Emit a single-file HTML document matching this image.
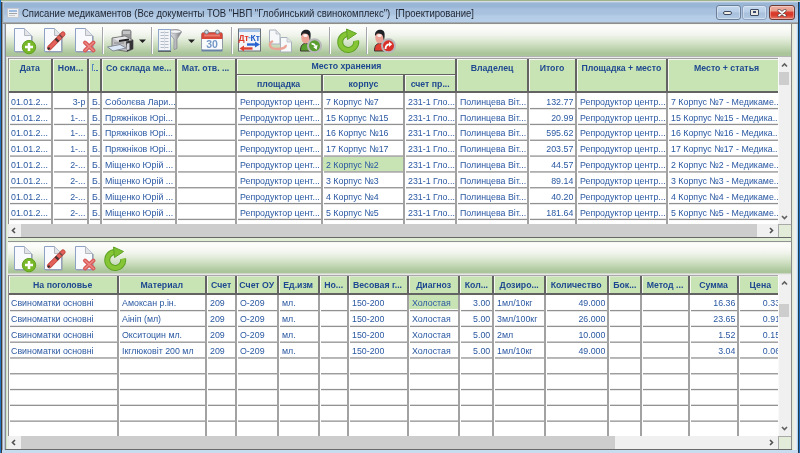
<!DOCTYPE html>
<html><head><meta charset="utf-8"><style>
html,body{margin:0;padding:0;}
body{width:800px;height:453px;position:relative;overflow:hidden;font-family:"Liberation Sans",sans-serif;}
body div, body svg{position:absolute;}
.d{transform:scaleX(0.9300);font-size:9.5px;line-height:11px;height:11px;color:#2a58a2;white-space:nowrap;overflow:hidden;}
.h{transform:scaleX(0.9200);font-size:9.5px;line-height:11px;height:11px;color:#1e4890;font-weight:bold;white-space:nowrap;overflow:hidden;}
.title{font-size:11px;line-height:13px;color:#1e2430;white-space:nowrap;transform:scaleX(0.864);transform-origin:0 0;}
.tbtn{border:1px solid #6c7e98;border-radius:3px;background:linear-gradient(to bottom,#c4d8ee 0px,#b8cee8 6px,#a8c0dc 7px,#b0c8e2 12px,#c0d8f0 13px);box-shadow:inset 0 0 0 1px rgba(255,255,255,0.35);}
</style></head><body>
<div id="wrap" style="left:0;top:0;width:800px;height:453px;filter:blur(0.35px)">
<div style="left:0px;top:0px;width:800px;height:453px;background:#e6eedc;"></div>
<div style="left:-4px;top:-4px;width:808px;height:5px;background:#9fb48a;"></div>
<div style="left:0px;top:1px;width:800px;height:1px;background:#d8dde4;"></div>
<div style="left:-4px;top:0px;width:5px;height:460px;background:#1f76c6;"></div>
<div style="left:0px;top:0px;width:1px;height:453px;background:#1f76c6;"></div>
<div style="left:1px;top:2px;width:1px;height:453px;background:#3e3a3a;"></div>
<div style="left:2px;top:2px;width:1px;height:453px;background:#a0a4a8;"></div>
<div style="left:3px;top:2px;width:1px;height:453px;background:#d4e4f4;"></div>
<div style="left:4px;top:2px;width:1px;height:453px;background:#b4c4dc;"></div>
<div style="left:5px;top:2px;width:1px;height:453px;background:#8c8c8c;"></div>
<div style="left:6px;top:2px;width:1px;height:453px;background:#cfe5c4;"></div>
<div style="left:7px;top:2px;width:1px;height:453px;background:#eaeee6;"></div>
<div style="left:791px;top:2px;width:1px;height:451px;background:#8a8a8a;"></div>
<div style="left:792px;top:2px;width:1px;height:451px;background:#e4ecdc;"></div>
<div style="left:793px;top:2px;width:1px;height:451px;background:#e8eee2;"></div>
<div style="left:794px;top:2px;width:1px;height:451px;background:#eef0ec;"></div>
<div style="left:795px;top:2px;width:1px;height:451px;background:#eef0f0;"></div>
<div style="left:796px;top:2px;width:1px;height:451px;background:#e4e8f0;"></div>
<div style="left:797px;top:2px;width:1px;height:451px;background:#a8d8f8;"></div>
<div style="left:798px;top:2px;width:1px;height:451px;background:#283848;"></div>
<div style="left:799px;top:2px;width:1px;height:451px;background:#1e6ec0;"></div>
<div style="left:799px;top:2px;width:5px;height:458px;background:#1e6ec0;"></div>
<div style="left:5px;top:449px;width:787px;height:1px;background:#6a6a6a;"></div>
<div style="left:2px;top:450px;width:796px;height:8px;background:#c8dcf0;"></div>
<div style="left:2px;top:2px;width:796px;height:20px;background:linear-gradient(to bottom,#c2d4e8 0px,#9ab6d6 1px,#9ab6d6 5px,#a6c0de 7px,#a8c2de 12px,#b4cce6 14px,#b6cee8 20px);"></div>
<div style="left:2px;top:2px;width:2px;height:20px;background:linear-gradient(to right,#707880,#d0e0f0);"></div>
<div style="left:2px;top:22px;width:796px;height:1px;background:#a0a8b0;"></div>
<div style="left:2px;top:23px;width:796px;height:1px;background:#8e8e8e;"></div>
<svg style="left:7px;top:8px" width="12" height="10" viewBox="0 0 12 10"><rect x="0.5" y="0.5" width="11" height="9" fill="#eef0f2" stroke="#c4c8d0"/><rect x="2" y="2" width="8" height="2" fill="#9cbbe0"/><rect x="2" y="5" width="8" height="1" fill="#a0a4a8"/><rect x="2" y="7" width="6" height="1" fill="#c8cacc"/></svg>
<div class="title" style="left:22px;top:6.5px">Списание медикаментов (Все документы ТОВ "НВП "Глобинський свинокомплекс")&nbsp;&nbsp;[Проектирование]</div>
<div class="tbtn" style="left:716px;top:5px;width:23px;height:13px;"><div style="position:absolute;left:6px;top:5px;width:7px;height:2px;background:#f2eee4;border:1px solid #3a4a62;border-radius:2px"></div></div>
<div class="tbtn" style="left:742px;top:5px;width:23px;height:13px;border-color:#8ea2c0;"><div style="position:absolute;left:7px;top:2.5px;width:6.5px;height:5px;background:#ebe8e2;border:1px solid #3a4a62;border-radius:1px"></div><div style="position:absolute;left:10px;top:5px;width:3px;height:1.5px;background:#3a4a70"></div></div>
<div class="tbtn" style="left:769px;top:5px;width:24px;height:13px;background:linear-gradient(to bottom,#eeb0a2 0px,#e89c8c 5px,#dc4030 6px,#d83828 9px,#e26a58 12px,#e88070 13px);border-color:#6a3a34"><svg style="left:7px;top:2.5px" width="10" height="8" viewBox="0 0 10 8"><path d="M2 1.5 L8 6.5 M8 1.5 L2 6.5" stroke="#5a4444" stroke-width="3" stroke-linecap="round"/><path d="M2 1.5 L8 6.5 M8 1.5 L2 6.5" stroke="#ffffff" stroke-width="1.7" stroke-linecap="round"/></svg></div>
<div style="left:6px;top:24px;width:785px;height:32px;background:linear-gradient(to bottom,#eef6e6 0px,#fdfdfb 1px,#fbfbf8 5px,#f0f4ec 11px,#dce8d2 17px,#c4d8b6 23px,#acc69c 29px,#a8c498 32px);"></div>
<div style="left:5px;top:23px;width:1px;height:34px;background:#8c8c8c;"></div>
<div style="left:6px;top:56px;width:785px;height:1px;background:#b4b4b4;"></div>
<div style="left:6px;top:57px;width:785px;height:1px;background:#ececec;"></div>
<svg style="left:0;top:0" width="800" height="453" viewBox="0 0 800 453"><defs><linearGradient id="funnel" x1="0" x2="1" y1="0" y2="0"><stop offset="0" stop-color="#e8e8ea"/><stop offset="0.45" stop-color="#c4c6ca"/><stop offset="1" stop-color="#6e7074"/></linearGradient></defs><path d="M14.5 28.5 H24.5 L31.5 35.5 V51.5 H14.5 Z" fill="#f8fafd" stroke="#8ea2c6"/><path d="M24.5 28.5 V35.5 H31.5" fill="#e2e4e8" stroke="#b4b8c0"/><path d="M15.5 52.2 H32.2 V36" fill="none" stroke="#a0a4ac" stroke-width="1"/><circle cx="29" cy="47.1" r="6.7" fill="#78b828" stroke="#62a020"/><path d="M29 43.1 V51.1 M25 47.1 H33" stroke="#fff" stroke-width="2.5"/><path d="M44.5 28.5 H54.5 L61.5 35.5 V51.5 H44.5 Z" fill="#f8fafd" stroke="#8ea2c6"/><path d="M54.5 28.5 V35.5 H61.5" fill="#e2e4e8" stroke="#b4b8c0"/><path d="M45.5 52.2 H62.2 V36" fill="none" stroke="#a0a4ac" stroke-width="1"/><path d="M49.5 47.8 L63 34" stroke="#c44a40" stroke-width="5" stroke-linecap="round"/><path d="M49.5 47.8 L63 34" stroke="#e4605a" stroke-width="3.2" stroke-linecap="round"/><path d="M56.2 41 L57.8 39.3" stroke="#4a3434" stroke-width="4.4"/><path d="M60.4 36.7 L61.4 35.6" stroke="#6a4a4a" stroke-width="4"/><path d="M48 49.4 L49.6 47.6" stroke="#303030" stroke-width="1.8"/><path d="M75.5 28.5 H85.5 L92.5 35.5 V51.5 H75.5 Z" fill="#f8fafd" stroke="#8ea2c6"/><path d="M85.5 28.5 V35.5 H92.5" fill="#e2e4e8" stroke="#b4b8c0"/><path d="M76.5 52.2 H93.2 V36" fill="none" stroke="#a0a4ac" stroke-width="1"/><path d="M85 42.5 L93.5 50.5 M93.5 42.5 L85 50.5" stroke="#d85a58" stroke-width="4" stroke-linecap="round"/><path d="M85 42.5 L93.5 50.5 M93.5 42.5 L85 50.5" stroke="#ec8a86" stroke-width="1.4" stroke-linecap="round"/><rect x="122" y="30" width="9" height="10" rx="1.5" fill="#9a9a9c" stroke="#707072" stroke-width="0.8"/><rect x="123" y="31" width="7" height="3" fill="#c4c4c6"/><path d="M112 38 L125 36 L133 40 L133 49 L127 51.5 L112 49 Z" fill="#c2c2c4" stroke="#6a6a6c" stroke-width="0.9"/><path d="M113 38.5 L125 36.5 L130 39 L118 41 Z" fill="#e8e8ea"/><path d="M119 41 L129 39.5" stroke="#202022" stroke-width="2"/><path d="M126 41.5 L133 40 L133 49 L127 51.5 Z" fill="#343436"/><path d="M127 43.5 L129.5 43 L129.5 49.5 L127 50 Z" fill="#d4d8de"/><path d="M114 43 H124" stroke="#8a8a8c" stroke-width="1"/><path d="M107.5 47 L120 44.5 L126 48 L113 51 Z" fill="#dce8f6" stroke="#7a8290" stroke-width="0.9"/><path d="M139 39.5 H146 L142.5 43.0 Z" fill="#202020"/><path d="M169 30.5 C173 29 180 29 181.5 32 L177 39 V48.5 L174 49.5 V39 L169 33 Z" fill="url(#funnel)" stroke="#8a8c90" stroke-width="0.8"/><ellipse cx="175.2" cy="31.6" rx="5.8" ry="1.7" fill="#f4f4f6" stroke="#9a9ca0" stroke-width="0.6"/><rect x="158.5" y="29.5" width="12" height="21" fill="#f2f4f8" stroke="#8ea8cc"/><path d="M160.5 32.5 H168.5 M160.5 35.5 H168.5 M160.5 38.5 H168.5 M160.5 41.5 H168.5 M160.5 44.5 H168.5 M160.5 47.5 H168.5" stroke="#b4bcc8" stroke-width="1.2"/><path d="M164.5 31 V49" stroke="#d8dce4" stroke-width="1"/><path d="M158 51.3 H171" stroke="#5a5a5c" stroke-width="1.2"/><path d="M188 39.5 H195 L191.5 43.0 Z" fill="#202020"/><rect x="201.5" y="32.5" width="21" height="18" rx="2" fill="#f8fafc" stroke="#9098a4"/><path d="M201.5 39 V34.5 Q201.5 32.5 203.5 32.5 H220.5 Q222.5 32.5 222.5 34.5 V39 Z" fill="#d8483a"/><rect x="204" y="34.5" width="16" height="2" fill="#e87c70"/><circle cx="206.5" cy="32" r="1.9" fill="#d0d8e4" stroke="#7c8898"/><circle cx="217.5" cy="32" r="1.9" fill="#d0d8e4" stroke="#7c8898"/><text x="212" y="48" text-anchor="middle" font-family="Liberation Sans" font-weight="bold" font-size="10.5" fill="#7498c8">30</text><rect x="201.5" y="49.5" width="21" height="2" fill="#6a84a8"/><rect x="238.5" y="29.0" width="22" height="22" fill="#f2f4f8" stroke="#6a7078"/><rect x="239" y="29.5" width="21" height="2.5" fill="#a8c4e8"/><text x="238.5" y="41.0" font-family="Liberation Sans" font-weight="bold" font-size="9.5" fill="#e03828" transform="translate(238.5 0) scale(0.9 1) translate(-238.5 0)">Дт</text><rect x="248.5" y="37.0" width="2" height="1.3" fill="#6aa0d8"/><text x="250.5" y="41.0" font-family="Liberation Sans" font-weight="bold" font-size="9.5" fill="#1e5cc8" transform="translate(250.5 0) scale(0.9 1) translate(-250.5 0)">Кт</text><path d="M247 44.5 H256" stroke="#2a64d0" stroke-width="2.4"/><path d="M255 41.5 L260 44.5 L255 47.5 Z" fill="#2a64d0"/><path d="M243 48.5 H252.5" stroke="#e04030" stroke-width="2.4"/><path d="M244 45.5 L239.5 48.5 L244 51.5 Z" fill="#e04030"/><path d="M269.5 30.0 H276 L280 34.0 V44.0 H269.5 Z" fill="#f6f8fa" stroke="#a8b0bc"/><path d="M276 30.0 V34.0 H280" fill="#e0e2e6" stroke="#b8bcc4" stroke-width="0.8"/><path d="M280.5 37.5 H287 L291.5 42.0 V52.0 H280.5 Z" fill="#f6f8fa" stroke="#a8b0bc"/><path d="M287 37.5 V42.0 H291.5" fill="#e0e2e6" stroke="#b8bcc4" stroke-width="0.8"/><path d="M273 41.0 C268 43.5 269 49.0 277 49.0 C283 49.0 286.5 47.5 285.5 45.0" fill="none" stroke="#eaa496" stroke-width="2.4"/><path d="M300.5 51.0 C300.5 45.5 302.5 43.5 305.5 43.5 C309 43.5 311 45.5 311 51.0 Z" fill="#5aa030" stroke="#3a3030" stroke-width="1"/><ellipse cx="305.6" cy="37.5" rx="4.3" ry="6" fill="#eca294"/><path d="M301 36.0 C300.5 31.0 304 29.5 307 29.8 C310 30.3 311 32.5 310.6 36.5 L310 41.5 L309 36.5 C308.5 34.0 306 33.0 303 33.7 Z" fill="#1e2226"/><ellipse cx="305.4" cy="35.5" rx="2.2" ry="1.6" fill="#ffffff" opacity="0.85"/><circle cx="314.5" cy="45.8" r="6.5" fill="#5a9e30" stroke="#b8b8bc" stroke-width="2"/><path d="M311.6 44.1 C313 43.5 314.5 44.3 315.3 45.9" fill="none" stroke="#fff" stroke-width="1.8"/><path d="M313.2 47.1 L317.6 44.7 L316.6 49.7 Z" fill="#fff"/><path d="M356.1 40.7 A8 8 0 1 1 348 34.0" fill="none" stroke="#5ea224" stroke-width="6"/><path d="M356.1 40.7 A8 8 0 1 1 348 34.0" fill="none" stroke="#86c636" stroke-width="4"/><path d="M346.5 29.0 L356.5 33.5 L347.5 39.5 Z" fill="#7ec032" stroke="#5ea224" stroke-width="1"/><path d="M374.5 51.0 C374.5 45.5 376.5 43.5 379.5 43.5 C383 43.5 385 45.5 385 51.0 Z" fill="#e04030" stroke="#3a3030" stroke-width="1"/><ellipse cx="379.6" cy="37.5" rx="4.3" ry="6" fill="#eca294"/><path d="M375 36.0 C374.5 31.0 378 29.5 381 29.8 C384 30.3 385 32.5 384.6 36.5 L384 41.5 L383 36.5 C382.5 34.0 380 33.0 377 33.7 Z" fill="#1e2226"/><ellipse cx="379.4" cy="35.5" rx="2.2" ry="1.6" fill="#ffffff" opacity="0.85"/><circle cx="388.5" cy="45.8" r="6.5" fill="#d83028" stroke="#b8b8bc" stroke-width="2"/><path d="M385.5 49.0 C385.5 45.5 387 44.3 389.5 44.3" fill="none" stroke="#fff" stroke-width="1.8"/><path d="M389 41.7 L392.2 44.3 L389 46.9 Z" fill="#fff"/></svg>
<div style="left:102px;top:27px;width:1px;height:27px;background:#a4a6ac;"></div>
<div style="left:103px;top:27px;width:1px;height:27px;background:#ffffff;"></div>
<div style="left:151px;top:27px;width:1px;height:27px;background:#a4a6ac;"></div>
<div style="left:152px;top:27px;width:1px;height:27px;background:#ffffff;"></div>
<div style="left:231px;top:27px;width:1px;height:27px;background:#a4a6ac;"></div>
<div style="left:232px;top:27px;width:1px;height:27px;background:#ffffff;"></div>
<div style="left:329px;top:27px;width:1px;height:27px;background:#a4a6ac;"></div>
<div style="left:330px;top:27px;width:1px;height:27px;background:#ffffff;"></div>
<div style="left:366px;top:27px;width:1px;height:27px;background:#a4a6ac;"></div>
<div style="left:367px;top:27px;width:1px;height:27px;background:#ffffff;"></div>
<div style="left:8px;top:58px;width:770px;height:1px;background:#a0a0a0;"></div>
<div style="left:8px;top:58px;width:1px;height:166px;background:#8c8c8c;"></div>
<div style="left:9px;top:59px;width:769px;height:34px;background:#c8e4b4;"></div>
<div style="left:9px;top:91px;width:769px;height:2px;background:#636363;"></div>
<div style="left:9px;top:93px;width:769px;height:131px;background:#ffffff;"></div>
<div style="left:9px;top:59px;width:769px;height:1px;background:#f4f8f0;"></div>
<div style="left:9px;top:59px;width:1px;height:32px;background:#f4f8f0;"></div>
<div style="left:53px;top:59px;width:1px;height:32px;background:#f4f8f0;"></div>
<div style="left:89px;top:59px;width:1px;height:32px;background:#f4f8f0;"></div>
<div style="left:102px;top:59px;width:1px;height:32px;background:#f4f8f0;"></div>
<div style="left:177px;top:59px;width:1px;height:32px;background:#f4f8f0;"></div>
<div style="left:237px;top:59px;width:1px;height:32px;background:#f4f8f0;"></div>
<div style="left:457px;top:59px;width:1px;height:32px;background:#f4f8f0;"></div>
<div style="left:529px;top:59px;width:1px;height:32px;background:#f4f8f0;"></div>
<div style="left:577px;top:59px;width:1px;height:32px;background:#f4f8f0;"></div>
<div style="left:668px;top:59px;width:1px;height:32px;background:#f4f8f0;"></div>
<div style="left:323px;top:75px;width:1px;height:16px;background:#f4f8f0;"></div>
<div style="left:405px;top:75px;width:1px;height:16px;background:#f4f8f0;"></div>
<div style="left:237px;top:75px;width:218px;height:1px;background:#f4f8f0;"></div>
<div style="left:237px;top:74px;width:218px;height:1px;background:#636363;"></div>
<div style="left:51px;top:59px;width:2px;height:34px;background:#636363;"></div>
<div style="left:87px;top:59px;width:2px;height:34px;background:#636363;"></div>
<div style="left:100px;top:59px;width:2px;height:34px;background:#636363;"></div>
<div style="left:175px;top:59px;width:2px;height:34px;background:#636363;"></div>
<div style="left:235px;top:59px;width:2px;height:34px;background:#636363;"></div>
<div style="left:455px;top:59px;width:2px;height:34px;background:#636363;"></div>
<div style="left:527px;top:59px;width:2px;height:34px;background:#636363;"></div>
<div style="left:575px;top:59px;width:2px;height:34px;background:#636363;"></div>
<div style="left:666px;top:59px;width:2px;height:34px;background:#636363;"></div>
<div style="left:321px;top:75px;width:2px;height:18px;background:#636363;"></div>
<div style="left:403px;top:75px;width:2px;height:18px;background:#636363;"></div>
<div class="h" style="left:7.17px;top:62.00px;width:45.65px;text-align:center;transform-origin:50% 0;">Дата</div>
<div class="h" style="left:51.52px;top:62.00px;width:36.96px;text-align:center;transform-origin:50% 0;">Ном...</div>
<div class="h" style="left:98.83px;top:62.00px;width:79.35px;text-align:center;transform-origin:50% 0;">Со склада ме...</div>
<div class="h" style="left:174.48px;top:62.00px;width:63.04px;text-align:center;transform-origin:50% 0;">Мат. отв. ...</div>
<div class="h" style="left:453.96px;top:62.00px;width:76.09px;text-align:center;transform-origin:50% 0;">Владелец</div>
<div class="h" style="left:527.00px;top:62.00px;width:50.00px;text-align:center;transform-origin:50% 0;">Итого</div>
<div class="h" style="left:573.13px;top:62.00px;width:96.74px;text-align:center;transform-origin:50% 0;">Площадка + место</div>
<div class="h" style="left:662.91px;top:62.00px;width:127.17px;text-align:center;transform-origin:50% 0;">Место + статья</div>
<div class="h" style="left:227.52px;top:60.30px;width:236.96px;text-align:center;transform-origin:50% 0;">Место хранения</div>
<div style="left:92px;top:64px;width:1px;height:7px;background:#5a88c4;"></div>
<div style="left:92px;top:64px;width:2px;height:1px;background:#5a88c4;"></div>
<div style="left:94px;top:69.5px;width:1px;height:1px;background:#3a68b0;"></div>
<div style="left:95.6px;top:69.5px;width:1px;height:1px;background:#3a68b0;"></div>
<div style="left:97.2px;top:69.5px;width:1px;height:1px;background:#3a68b0;"></div>
<div class="h" style="left:233.35px;top:77.90px;width:91.30px;text-align:center;transform-origin:50% 0;">площадка</div>
<div class="h" style="left:319.52px;top:77.90px;width:86.96px;text-align:center;transform-origin:50% 0;">корпус</div>
<div class="h" style="left:402.83px;top:77.90px;width:54.35px;text-align:center;transform-origin:50% 0;">счет пр...</div>
<div style="left:323px;top:157px;width:80px;height:14px;background:#c8e4b4;"></div>
<div style="left:10px;top:107px;width:41px;height:1px;background:#f9f9f9;"></div>
<div style="left:10px;top:108px;width:41px;height:1px;background:#919191;"></div>
<div style="left:10px;top:109px;width:41px;height:1px;background:#e4e4e4;"></div>
<div style="left:54px;top:107px;width:33px;height:1px;background:#f9f9f9;"></div>
<div style="left:54px;top:108px;width:33px;height:1px;background:#919191;"></div>
<div style="left:54px;top:109px;width:33px;height:1px;background:#e4e4e4;"></div>
<div style="left:90px;top:107px;width:10px;height:1px;background:#f9f9f9;"></div>
<div style="left:90px;top:108px;width:10px;height:1px;background:#919191;"></div>
<div style="left:90px;top:109px;width:10px;height:1px;background:#e4e4e4;"></div>
<div style="left:103px;top:107px;width:72px;height:1px;background:#f9f9f9;"></div>
<div style="left:103px;top:108px;width:72px;height:1px;background:#919191;"></div>
<div style="left:103px;top:109px;width:72px;height:1px;background:#e4e4e4;"></div>
<div style="left:178px;top:107px;width:57px;height:1px;background:#f9f9f9;"></div>
<div style="left:178px;top:108px;width:57px;height:1px;background:#919191;"></div>
<div style="left:178px;top:109px;width:57px;height:1px;background:#e4e4e4;"></div>
<div style="left:238px;top:107px;width:83px;height:1px;background:#f9f9f9;"></div>
<div style="left:238px;top:108px;width:83px;height:1px;background:#919191;"></div>
<div style="left:238px;top:109px;width:83px;height:1px;background:#e4e4e4;"></div>
<div style="left:324px;top:107px;width:79px;height:1px;background:#f9f9f9;"></div>
<div style="left:324px;top:108px;width:79px;height:1px;background:#919191;"></div>
<div style="left:324px;top:109px;width:79px;height:1px;background:#e4e4e4;"></div>
<div style="left:406px;top:107px;width:49px;height:1px;background:#f9f9f9;"></div>
<div style="left:406px;top:108px;width:49px;height:1px;background:#919191;"></div>
<div style="left:406px;top:109px;width:49px;height:1px;background:#e4e4e4;"></div>
<div style="left:458px;top:107px;width:69px;height:1px;background:#f9f9f9;"></div>
<div style="left:458px;top:108px;width:69px;height:1px;background:#919191;"></div>
<div style="left:458px;top:109px;width:69px;height:1px;background:#e4e4e4;"></div>
<div style="left:530px;top:107px;width:45px;height:1px;background:#f9f9f9;"></div>
<div style="left:530px;top:108px;width:45px;height:1px;background:#919191;"></div>
<div style="left:530px;top:109px;width:45px;height:1px;background:#e4e4e4;"></div>
<div style="left:578px;top:107px;width:88px;height:1px;background:#f9f9f9;"></div>
<div style="left:578px;top:108px;width:88px;height:1px;background:#919191;"></div>
<div style="left:578px;top:109px;width:88px;height:1px;background:#e4e4e4;"></div>
<div style="left:669px;top:107px;width:109px;height:1px;background:#f9f9f9;"></div>
<div style="left:669px;top:108px;width:109px;height:1px;background:#919191;"></div>
<div style="left:669px;top:109px;width:109px;height:1px;background:#e4e4e4;"></div>
<div style="left:10px;top:123px;width:41px;height:1px;background:#e7e7e7;"></div>
<div style="left:10px;top:124px;width:41px;height:1px;background:#919191;"></div>
<div style="left:10px;top:125px;width:41px;height:1px;background:#f6f6f6;"></div>
<div style="left:54px;top:123px;width:33px;height:1px;background:#e7e7e7;"></div>
<div style="left:54px;top:124px;width:33px;height:1px;background:#919191;"></div>
<div style="left:54px;top:125px;width:33px;height:1px;background:#f6f6f6;"></div>
<div style="left:90px;top:123px;width:10px;height:1px;background:#e7e7e7;"></div>
<div style="left:90px;top:124px;width:10px;height:1px;background:#919191;"></div>
<div style="left:90px;top:125px;width:10px;height:1px;background:#f6f6f6;"></div>
<div style="left:103px;top:123px;width:72px;height:1px;background:#e7e7e7;"></div>
<div style="left:103px;top:124px;width:72px;height:1px;background:#919191;"></div>
<div style="left:103px;top:125px;width:72px;height:1px;background:#f6f6f6;"></div>
<div style="left:178px;top:123px;width:57px;height:1px;background:#e7e7e7;"></div>
<div style="left:178px;top:124px;width:57px;height:1px;background:#919191;"></div>
<div style="left:178px;top:125px;width:57px;height:1px;background:#f6f6f6;"></div>
<div style="left:238px;top:123px;width:83px;height:1px;background:#e7e7e7;"></div>
<div style="left:238px;top:124px;width:83px;height:1px;background:#919191;"></div>
<div style="left:238px;top:125px;width:83px;height:1px;background:#f6f6f6;"></div>
<div style="left:324px;top:123px;width:79px;height:1px;background:#e7e7e7;"></div>
<div style="left:324px;top:124px;width:79px;height:1px;background:#919191;"></div>
<div style="left:324px;top:125px;width:79px;height:1px;background:#f6f6f6;"></div>
<div style="left:406px;top:123px;width:49px;height:1px;background:#e7e7e7;"></div>
<div style="left:406px;top:124px;width:49px;height:1px;background:#919191;"></div>
<div style="left:406px;top:125px;width:49px;height:1px;background:#f6f6f6;"></div>
<div style="left:458px;top:123px;width:69px;height:1px;background:#e7e7e7;"></div>
<div style="left:458px;top:124px;width:69px;height:1px;background:#919191;"></div>
<div style="left:458px;top:125px;width:69px;height:1px;background:#f6f6f6;"></div>
<div style="left:530px;top:123px;width:45px;height:1px;background:#e7e7e7;"></div>
<div style="left:530px;top:124px;width:45px;height:1px;background:#919191;"></div>
<div style="left:530px;top:125px;width:45px;height:1px;background:#f6f6f6;"></div>
<div style="left:578px;top:123px;width:88px;height:1px;background:#e7e7e7;"></div>
<div style="left:578px;top:124px;width:88px;height:1px;background:#919191;"></div>
<div style="left:578px;top:125px;width:88px;height:1px;background:#f6f6f6;"></div>
<div style="left:669px;top:123px;width:109px;height:1px;background:#e7e7e7;"></div>
<div style="left:669px;top:124px;width:109px;height:1px;background:#919191;"></div>
<div style="left:669px;top:125px;width:109px;height:1px;background:#f6f6f6;"></div>
<div style="left:10px;top:139px;width:41px;height:1px;background:#d4d4d4;"></div>
<div style="left:10px;top:140px;width:41px;height:1px;background:#9b9b9b;"></div>
<div style="left:54px;top:139px;width:33px;height:1px;background:#d4d4d4;"></div>
<div style="left:54px;top:140px;width:33px;height:1px;background:#9b9b9b;"></div>
<div style="left:90px;top:139px;width:10px;height:1px;background:#d4d4d4;"></div>
<div style="left:90px;top:140px;width:10px;height:1px;background:#9b9b9b;"></div>
<div style="left:103px;top:139px;width:72px;height:1px;background:#d4d4d4;"></div>
<div style="left:103px;top:140px;width:72px;height:1px;background:#9b9b9b;"></div>
<div style="left:178px;top:139px;width:57px;height:1px;background:#d4d4d4;"></div>
<div style="left:178px;top:140px;width:57px;height:1px;background:#9b9b9b;"></div>
<div style="left:238px;top:139px;width:83px;height:1px;background:#d4d4d4;"></div>
<div style="left:238px;top:140px;width:83px;height:1px;background:#9b9b9b;"></div>
<div style="left:324px;top:139px;width:79px;height:1px;background:#d4d4d4;"></div>
<div style="left:324px;top:140px;width:79px;height:1px;background:#9b9b9b;"></div>
<div style="left:406px;top:139px;width:49px;height:1px;background:#d4d4d4;"></div>
<div style="left:406px;top:140px;width:49px;height:1px;background:#9b9b9b;"></div>
<div style="left:458px;top:139px;width:69px;height:1px;background:#d4d4d4;"></div>
<div style="left:458px;top:140px;width:69px;height:1px;background:#9b9b9b;"></div>
<div style="left:530px;top:139px;width:45px;height:1px;background:#d4d4d4;"></div>
<div style="left:530px;top:140px;width:45px;height:1px;background:#9b9b9b;"></div>
<div style="left:578px;top:139px;width:88px;height:1px;background:#d4d4d4;"></div>
<div style="left:578px;top:140px;width:88px;height:1px;background:#9b9b9b;"></div>
<div style="left:669px;top:139px;width:109px;height:1px;background:#d4d4d4;"></div>
<div style="left:669px;top:140px;width:109px;height:1px;background:#9b9b9b;"></div>
<div style="left:10px;top:155px;width:41px;height:1px;background:#c1c1c1;"></div>
<div style="left:10px;top:156px;width:41px;height:1px;background:#aeaeae;"></div>
<div style="left:54px;top:155px;width:33px;height:1px;background:#c1c1c1;"></div>
<div style="left:54px;top:156px;width:33px;height:1px;background:#aeaeae;"></div>
<div style="left:90px;top:155px;width:10px;height:1px;background:#c1c1c1;"></div>
<div style="left:90px;top:156px;width:10px;height:1px;background:#aeaeae;"></div>
<div style="left:103px;top:155px;width:72px;height:1px;background:#c1c1c1;"></div>
<div style="left:103px;top:156px;width:72px;height:1px;background:#aeaeae;"></div>
<div style="left:178px;top:155px;width:57px;height:1px;background:#c1c1c1;"></div>
<div style="left:178px;top:156px;width:57px;height:1px;background:#aeaeae;"></div>
<div style="left:238px;top:155px;width:83px;height:1px;background:#c1c1c1;"></div>
<div style="left:238px;top:156px;width:83px;height:1px;background:#aeaeae;"></div>
<div style="left:324px;top:155px;width:79px;height:1px;background:#c1c1c1;"></div>
<div style="left:324px;top:156px;width:79px;height:1px;background:#aeaeae;"></div>
<div style="left:406px;top:155px;width:49px;height:1px;background:#c1c1c1;"></div>
<div style="left:406px;top:156px;width:49px;height:1px;background:#aeaeae;"></div>
<div style="left:458px;top:155px;width:69px;height:1px;background:#c1c1c1;"></div>
<div style="left:458px;top:156px;width:69px;height:1px;background:#aeaeae;"></div>
<div style="left:530px;top:155px;width:45px;height:1px;background:#c1c1c1;"></div>
<div style="left:530px;top:156px;width:45px;height:1px;background:#aeaeae;"></div>
<div style="left:578px;top:155px;width:88px;height:1px;background:#c1c1c1;"></div>
<div style="left:578px;top:156px;width:88px;height:1px;background:#aeaeae;"></div>
<div style="left:669px;top:155px;width:109px;height:1px;background:#c1c1c1;"></div>
<div style="left:669px;top:156px;width:109px;height:1px;background:#aeaeae;"></div>
<div style="left:10px;top:171px;width:41px;height:1px;background:#afafaf;"></div>
<div style="left:10px;top:172px;width:41px;height:1px;background:#c0c0c0;"></div>
<div style="left:54px;top:171px;width:33px;height:1px;background:#afafaf;"></div>
<div style="left:54px;top:172px;width:33px;height:1px;background:#c0c0c0;"></div>
<div style="left:90px;top:171px;width:10px;height:1px;background:#afafaf;"></div>
<div style="left:90px;top:172px;width:10px;height:1px;background:#c0c0c0;"></div>
<div style="left:103px;top:171px;width:72px;height:1px;background:#afafaf;"></div>
<div style="left:103px;top:172px;width:72px;height:1px;background:#c0c0c0;"></div>
<div style="left:178px;top:171px;width:57px;height:1px;background:#afafaf;"></div>
<div style="left:178px;top:172px;width:57px;height:1px;background:#c0c0c0;"></div>
<div style="left:238px;top:171px;width:83px;height:1px;background:#afafaf;"></div>
<div style="left:238px;top:172px;width:83px;height:1px;background:#c0c0c0;"></div>
<div style="left:324px;top:171px;width:79px;height:1px;background:#afafaf;"></div>
<div style="left:324px;top:172px;width:79px;height:1px;background:#c0c0c0;"></div>
<div style="left:406px;top:171px;width:49px;height:1px;background:#afafaf;"></div>
<div style="left:406px;top:172px;width:49px;height:1px;background:#c0c0c0;"></div>
<div style="left:458px;top:171px;width:69px;height:1px;background:#afafaf;"></div>
<div style="left:458px;top:172px;width:69px;height:1px;background:#c0c0c0;"></div>
<div style="left:530px;top:171px;width:45px;height:1px;background:#afafaf;"></div>
<div style="left:530px;top:172px;width:45px;height:1px;background:#c0c0c0;"></div>
<div style="left:578px;top:171px;width:88px;height:1px;background:#afafaf;"></div>
<div style="left:578px;top:172px;width:88px;height:1px;background:#c0c0c0;"></div>
<div style="left:669px;top:171px;width:109px;height:1px;background:#afafaf;"></div>
<div style="left:669px;top:172px;width:109px;height:1px;background:#c0c0c0;"></div>
<div style="left:10px;top:187px;width:41px;height:1px;background:#9c9c9c;"></div>
<div style="left:10px;top:188px;width:41px;height:1px;background:#d3d3d3;"></div>
<div style="left:54px;top:187px;width:33px;height:1px;background:#9c9c9c;"></div>
<div style="left:54px;top:188px;width:33px;height:1px;background:#d3d3d3;"></div>
<div style="left:90px;top:187px;width:10px;height:1px;background:#9c9c9c;"></div>
<div style="left:90px;top:188px;width:10px;height:1px;background:#d3d3d3;"></div>
<div style="left:103px;top:187px;width:72px;height:1px;background:#9c9c9c;"></div>
<div style="left:103px;top:188px;width:72px;height:1px;background:#d3d3d3;"></div>
<div style="left:178px;top:187px;width:57px;height:1px;background:#9c9c9c;"></div>
<div style="left:178px;top:188px;width:57px;height:1px;background:#d3d3d3;"></div>
<div style="left:238px;top:187px;width:83px;height:1px;background:#9c9c9c;"></div>
<div style="left:238px;top:188px;width:83px;height:1px;background:#d3d3d3;"></div>
<div style="left:324px;top:187px;width:79px;height:1px;background:#9c9c9c;"></div>
<div style="left:324px;top:188px;width:79px;height:1px;background:#d3d3d3;"></div>
<div style="left:406px;top:187px;width:49px;height:1px;background:#9c9c9c;"></div>
<div style="left:406px;top:188px;width:49px;height:1px;background:#d3d3d3;"></div>
<div style="left:458px;top:187px;width:69px;height:1px;background:#9c9c9c;"></div>
<div style="left:458px;top:188px;width:69px;height:1px;background:#d3d3d3;"></div>
<div style="left:530px;top:187px;width:45px;height:1px;background:#9c9c9c;"></div>
<div style="left:530px;top:188px;width:45px;height:1px;background:#d3d3d3;"></div>
<div style="left:578px;top:187px;width:88px;height:1px;background:#9c9c9c;"></div>
<div style="left:578px;top:188px;width:88px;height:1px;background:#d3d3d3;"></div>
<div style="left:669px;top:187px;width:109px;height:1px;background:#9c9c9c;"></div>
<div style="left:669px;top:188px;width:109px;height:1px;background:#d3d3d3;"></div>
<div style="left:10px;top:202px;width:41px;height:1px;background:#f7f7f7;"></div>
<div style="left:10px;top:203px;width:41px;height:1px;background:#919191;"></div>
<div style="left:10px;top:204px;width:41px;height:1px;background:#e6e6e6;"></div>
<div style="left:54px;top:202px;width:33px;height:1px;background:#f7f7f7;"></div>
<div style="left:54px;top:203px;width:33px;height:1px;background:#919191;"></div>
<div style="left:54px;top:204px;width:33px;height:1px;background:#e6e6e6;"></div>
<div style="left:90px;top:202px;width:10px;height:1px;background:#f7f7f7;"></div>
<div style="left:90px;top:203px;width:10px;height:1px;background:#919191;"></div>
<div style="left:90px;top:204px;width:10px;height:1px;background:#e6e6e6;"></div>
<div style="left:103px;top:202px;width:72px;height:1px;background:#f7f7f7;"></div>
<div style="left:103px;top:203px;width:72px;height:1px;background:#919191;"></div>
<div style="left:103px;top:204px;width:72px;height:1px;background:#e6e6e6;"></div>
<div style="left:178px;top:202px;width:57px;height:1px;background:#f7f7f7;"></div>
<div style="left:178px;top:203px;width:57px;height:1px;background:#919191;"></div>
<div style="left:178px;top:204px;width:57px;height:1px;background:#e6e6e6;"></div>
<div style="left:238px;top:202px;width:83px;height:1px;background:#f7f7f7;"></div>
<div style="left:238px;top:203px;width:83px;height:1px;background:#919191;"></div>
<div style="left:238px;top:204px;width:83px;height:1px;background:#e6e6e6;"></div>
<div style="left:324px;top:202px;width:79px;height:1px;background:#f7f7f7;"></div>
<div style="left:324px;top:203px;width:79px;height:1px;background:#919191;"></div>
<div style="left:324px;top:204px;width:79px;height:1px;background:#e6e6e6;"></div>
<div style="left:406px;top:202px;width:49px;height:1px;background:#f7f7f7;"></div>
<div style="left:406px;top:203px;width:49px;height:1px;background:#919191;"></div>
<div style="left:406px;top:204px;width:49px;height:1px;background:#e6e6e6;"></div>
<div style="left:458px;top:202px;width:69px;height:1px;background:#f7f7f7;"></div>
<div style="left:458px;top:203px;width:69px;height:1px;background:#919191;"></div>
<div style="left:458px;top:204px;width:69px;height:1px;background:#e6e6e6;"></div>
<div style="left:530px;top:202px;width:45px;height:1px;background:#f7f7f7;"></div>
<div style="left:530px;top:203px;width:45px;height:1px;background:#919191;"></div>
<div style="left:530px;top:204px;width:45px;height:1px;background:#e6e6e6;"></div>
<div style="left:578px;top:202px;width:88px;height:1px;background:#f7f7f7;"></div>
<div style="left:578px;top:203px;width:88px;height:1px;background:#919191;"></div>
<div style="left:578px;top:204px;width:88px;height:1px;background:#e6e6e6;"></div>
<div style="left:669px;top:202px;width:109px;height:1px;background:#f7f7f7;"></div>
<div style="left:669px;top:203px;width:109px;height:1px;background:#919191;"></div>
<div style="left:669px;top:204px;width:109px;height:1px;background:#e6e6e6;"></div>
<div style="left:10px;top:218px;width:41px;height:1px;background:#e5e5e5;"></div>
<div style="left:10px;top:219px;width:41px;height:1px;background:#919191;"></div>
<div style="left:10px;top:220px;width:41px;height:1px;background:#f8f8f8;"></div>
<div style="left:54px;top:218px;width:33px;height:1px;background:#e5e5e5;"></div>
<div style="left:54px;top:219px;width:33px;height:1px;background:#919191;"></div>
<div style="left:54px;top:220px;width:33px;height:1px;background:#f8f8f8;"></div>
<div style="left:90px;top:218px;width:10px;height:1px;background:#e5e5e5;"></div>
<div style="left:90px;top:219px;width:10px;height:1px;background:#919191;"></div>
<div style="left:90px;top:220px;width:10px;height:1px;background:#f8f8f8;"></div>
<div style="left:103px;top:218px;width:72px;height:1px;background:#e5e5e5;"></div>
<div style="left:103px;top:219px;width:72px;height:1px;background:#919191;"></div>
<div style="left:103px;top:220px;width:72px;height:1px;background:#f8f8f8;"></div>
<div style="left:178px;top:218px;width:57px;height:1px;background:#e5e5e5;"></div>
<div style="left:178px;top:219px;width:57px;height:1px;background:#919191;"></div>
<div style="left:178px;top:220px;width:57px;height:1px;background:#f8f8f8;"></div>
<div style="left:238px;top:218px;width:83px;height:1px;background:#e5e5e5;"></div>
<div style="left:238px;top:219px;width:83px;height:1px;background:#919191;"></div>
<div style="left:238px;top:220px;width:83px;height:1px;background:#f8f8f8;"></div>
<div style="left:324px;top:218px;width:79px;height:1px;background:#e5e5e5;"></div>
<div style="left:324px;top:219px;width:79px;height:1px;background:#919191;"></div>
<div style="left:324px;top:220px;width:79px;height:1px;background:#f8f8f8;"></div>
<div style="left:406px;top:218px;width:49px;height:1px;background:#e5e5e5;"></div>
<div style="left:406px;top:219px;width:49px;height:1px;background:#919191;"></div>
<div style="left:406px;top:220px;width:49px;height:1px;background:#f8f8f8;"></div>
<div style="left:458px;top:218px;width:69px;height:1px;background:#e5e5e5;"></div>
<div style="left:458px;top:219px;width:69px;height:1px;background:#919191;"></div>
<div style="left:458px;top:220px;width:69px;height:1px;background:#f8f8f8;"></div>
<div style="left:530px;top:218px;width:45px;height:1px;background:#e5e5e5;"></div>
<div style="left:530px;top:219px;width:45px;height:1px;background:#919191;"></div>
<div style="left:530px;top:220px;width:45px;height:1px;background:#f8f8f8;"></div>
<div style="left:578px;top:218px;width:88px;height:1px;background:#e5e5e5;"></div>
<div style="left:578px;top:219px;width:88px;height:1px;background:#919191;"></div>
<div style="left:578px;top:220px;width:88px;height:1px;background:#f8f8f8;"></div>
<div style="left:669px;top:218px;width:109px;height:1px;background:#e5e5e5;"></div>
<div style="left:669px;top:219px;width:109px;height:1px;background:#919191;"></div>
<div style="left:669px;top:220px;width:109px;height:1px;background:#f8f8f8;"></div>
<div style="left:51px;top:93px;width:2px;height:131px;background:#a2a2a2;"></div>
<div style="left:87px;top:93px;width:2px;height:131px;background:#a2a2a2;"></div>
<div style="left:100px;top:93px;width:2px;height:131px;background:#a2a2a2;"></div>
<div style="left:175px;top:93px;width:2px;height:131px;background:#a2a2a2;"></div>
<div style="left:235px;top:93px;width:2px;height:131px;background:#a2a2a2;"></div>
<div style="left:455px;top:93px;width:2px;height:131px;background:#a2a2a2;"></div>
<div style="left:527px;top:93px;width:2px;height:131px;background:#a2a2a2;"></div>
<div style="left:575px;top:93px;width:2px;height:131px;background:#a2a2a2;"></div>
<div style="left:666px;top:93px;width:2px;height:131px;background:#a2a2a2;"></div>
<div style="left:321px;top:93px;width:2px;height:131px;background:#a2a2a2;"></div>
<div style="left:403px;top:93px;width:2px;height:131px;background:#a2a2a2;"></div>
<div class="d" style="left:11.00px;top:95.70px;width:43.01px;text-align:left;transform-origin:0 0;">01.01.2...</div>
<div class="d" style="left:50.59px;top:95.70px;width:34.41px;text-align:right;transform-origin:100% 0;">3-р</div>
<div class="d" style="left:91.70px;top:95.70px;width:8.92px;text-align:left;transform-origin:0 0;">Б.</div>
<div class="d" style="left:104.70px;top:95.70px;width:75.59px;text-align:left;transform-origin:0 0;">Соболєва Лари...</div>
<div class="d" style="left:239.70px;top:95.70px;width:87.42px;text-align:left;transform-origin:0 0;">Репродуктор цент...</div>
<div class="d" style="left:325.70px;top:95.70px;width:83.12px;text-align:left;transform-origin:0 0;">7 Корпус №7</div>
<div class="d" style="left:407.70px;top:95.70px;width:50.86px;text-align:left;transform-origin:0 0;">231-1 Гло...</div>
<div class="d" style="left:459.70px;top:95.70px;width:72.37px;text-align:left;transform-origin:0 0;">Полинцева Віт...</div>
<div class="d" style="left:525.69px;top:95.70px;width:47.31px;text-align:right;transform-origin:100% 0;">132.77</div>
<div class="d" style="left:579.70px;top:95.70px;width:92.80px;text-align:left;transform-origin:0 0;">Репродуктор центр...</div>
<div class="d" style="left:670.70px;top:95.70px;width:128.28px;text-align:left;transform-origin:0 0;">7 Корпус №7 - Медикаме...</div>
<div class="d" style="left:11.00px;top:111.53px;width:43.01px;text-align:left;transform-origin:0 0;">01.01.2...</div>
<div class="d" style="left:50.59px;top:111.53px;width:34.41px;text-align:right;transform-origin:100% 0;">1-...</div>
<div class="d" style="left:91.70px;top:111.53px;width:8.92px;text-align:left;transform-origin:0 0;">Б.</div>
<div class="d" style="left:104.70px;top:111.53px;width:75.59px;text-align:left;transform-origin:0 0;">Пряжніков Юрі...</div>
<div class="d" style="left:239.70px;top:111.53px;width:87.42px;text-align:left;transform-origin:0 0;">Репродуктор цент...</div>
<div class="d" style="left:325.70px;top:111.53px;width:83.12px;text-align:left;transform-origin:0 0;">15 Корпус №15</div>
<div class="d" style="left:407.70px;top:111.53px;width:50.86px;text-align:left;transform-origin:0 0;">231-1 Гло...</div>
<div class="d" style="left:459.70px;top:111.53px;width:72.37px;text-align:left;transform-origin:0 0;">Полинцева Віт...</div>
<div class="d" style="left:525.69px;top:111.53px;width:47.31px;text-align:right;transform-origin:100% 0;">20.99</div>
<div class="d" style="left:579.70px;top:111.53px;width:92.80px;text-align:left;transform-origin:0 0;">Репродуктор центр...</div>
<div class="d" style="left:670.70px;top:111.53px;width:128.28px;text-align:left;transform-origin:0 0;">15 Корпус №15 - Медика...</div>
<div class="d" style="left:11.00px;top:127.36px;width:43.01px;text-align:left;transform-origin:0 0;">01.01.2...</div>
<div class="d" style="left:50.59px;top:127.36px;width:34.41px;text-align:right;transform-origin:100% 0;">1-...</div>
<div class="d" style="left:91.70px;top:127.36px;width:8.92px;text-align:left;transform-origin:0 0;">Б.</div>
<div class="d" style="left:104.70px;top:127.36px;width:75.59px;text-align:left;transform-origin:0 0;">Пряжніков Юрі...</div>
<div class="d" style="left:239.70px;top:127.36px;width:87.42px;text-align:left;transform-origin:0 0;">Репродуктор цент...</div>
<div class="d" style="left:325.70px;top:127.36px;width:83.12px;text-align:left;transform-origin:0 0;">16 Корпус №16</div>
<div class="d" style="left:407.70px;top:127.36px;width:50.86px;text-align:left;transform-origin:0 0;">231-1 Гло...</div>
<div class="d" style="left:459.70px;top:127.36px;width:72.37px;text-align:left;transform-origin:0 0;">Полинцева Віт...</div>
<div class="d" style="left:525.69px;top:127.36px;width:47.31px;text-align:right;transform-origin:100% 0;">595.62</div>
<div class="d" style="left:579.70px;top:127.36px;width:92.80px;text-align:left;transform-origin:0 0;">Репродуктор центр...</div>
<div class="d" style="left:670.70px;top:127.36px;width:128.28px;text-align:left;transform-origin:0 0;">16 Корпус №16 - Медика...</div>
<div class="d" style="left:11.00px;top:143.19px;width:43.01px;text-align:left;transform-origin:0 0;">01.01.2...</div>
<div class="d" style="left:50.59px;top:143.19px;width:34.41px;text-align:right;transform-origin:100% 0;">1-...</div>
<div class="d" style="left:91.70px;top:143.19px;width:8.92px;text-align:left;transform-origin:0 0;">Б.</div>
<div class="d" style="left:104.70px;top:143.19px;width:75.59px;text-align:left;transform-origin:0 0;">Пряжніков Юрі...</div>
<div class="d" style="left:239.70px;top:143.19px;width:87.42px;text-align:left;transform-origin:0 0;">Репродуктор цент...</div>
<div class="d" style="left:325.70px;top:143.19px;width:83.12px;text-align:left;transform-origin:0 0;">17 Корпус №17</div>
<div class="d" style="left:407.70px;top:143.19px;width:50.86px;text-align:left;transform-origin:0 0;">231-1 Гло...</div>
<div class="d" style="left:459.70px;top:143.19px;width:72.37px;text-align:left;transform-origin:0 0;">Полинцева Віт...</div>
<div class="d" style="left:525.69px;top:143.19px;width:47.31px;text-align:right;transform-origin:100% 0;">203.57</div>
<div class="d" style="left:579.70px;top:143.19px;width:92.80px;text-align:left;transform-origin:0 0;">Репродуктор центр...</div>
<div class="d" style="left:670.70px;top:143.19px;width:128.28px;text-align:left;transform-origin:0 0;">17 Корпус №17 - Медика...</div>
<div class="d" style="left:11.00px;top:159.02px;width:43.01px;text-align:left;transform-origin:0 0;">01.01.2...</div>
<div class="d" style="left:50.59px;top:159.02px;width:34.41px;text-align:right;transform-origin:100% 0;">2-...</div>
<div class="d" style="left:91.70px;top:159.02px;width:8.92px;text-align:left;transform-origin:0 0;">Б.</div>
<div class="d" style="left:104.70px;top:159.02px;width:75.59px;text-align:left;transform-origin:0 0;">Міщенко Юрій ...</div>
<div class="d" style="left:239.70px;top:159.02px;width:87.42px;text-align:left;transform-origin:0 0;">Репродуктор цент...</div>
<div class="d" style="left:325.70px;top:159.02px;width:83.12px;text-align:left;transform-origin:0 0;">2 Корпус №2</div>
<div class="d" style="left:407.70px;top:159.02px;width:50.86px;text-align:left;transform-origin:0 0;">231-1 Гло...</div>
<div class="d" style="left:459.70px;top:159.02px;width:72.37px;text-align:left;transform-origin:0 0;">Полинцева Віт...</div>
<div class="d" style="left:525.69px;top:159.02px;width:47.31px;text-align:right;transform-origin:100% 0;">44.57</div>
<div class="d" style="left:579.70px;top:159.02px;width:92.80px;text-align:left;transform-origin:0 0;">Репродуктор центр...</div>
<div class="d" style="left:670.70px;top:159.02px;width:128.28px;text-align:left;transform-origin:0 0;">2 Корпус №2 - Медикаме...</div>
<div class="d" style="left:11.00px;top:174.85px;width:43.01px;text-align:left;transform-origin:0 0;">01.01.2...</div>
<div class="d" style="left:50.59px;top:174.85px;width:34.41px;text-align:right;transform-origin:100% 0;">2-...</div>
<div class="d" style="left:91.70px;top:174.85px;width:8.92px;text-align:left;transform-origin:0 0;">Б.</div>
<div class="d" style="left:104.70px;top:174.85px;width:75.59px;text-align:left;transform-origin:0 0;">Міщенко Юрій ...</div>
<div class="d" style="left:239.70px;top:174.85px;width:87.42px;text-align:left;transform-origin:0 0;">Репродуктор цент...</div>
<div class="d" style="left:325.70px;top:174.85px;width:83.12px;text-align:left;transform-origin:0 0;">3 Корпус №3</div>
<div class="d" style="left:407.70px;top:174.85px;width:50.86px;text-align:left;transform-origin:0 0;">231-1 Гло...</div>
<div class="d" style="left:459.70px;top:174.85px;width:72.37px;text-align:left;transform-origin:0 0;">Полинцева Віт...</div>
<div class="d" style="left:525.69px;top:174.85px;width:47.31px;text-align:right;transform-origin:100% 0;">89.14</div>
<div class="d" style="left:579.70px;top:174.85px;width:92.80px;text-align:left;transform-origin:0 0;">Репродуктор центр...</div>
<div class="d" style="left:670.70px;top:174.85px;width:128.28px;text-align:left;transform-origin:0 0;">3 Корпус №3 - Медикаме...</div>
<div class="d" style="left:11.00px;top:190.68px;width:43.01px;text-align:left;transform-origin:0 0;">01.01.2...</div>
<div class="d" style="left:50.59px;top:190.68px;width:34.41px;text-align:right;transform-origin:100% 0;">2-...</div>
<div class="d" style="left:91.70px;top:190.68px;width:8.92px;text-align:left;transform-origin:0 0;">Б.</div>
<div class="d" style="left:104.70px;top:190.68px;width:75.59px;text-align:left;transform-origin:0 0;">Міщенко Юрій ...</div>
<div class="d" style="left:239.70px;top:190.68px;width:87.42px;text-align:left;transform-origin:0 0;">Репродуктор цент...</div>
<div class="d" style="left:325.70px;top:190.68px;width:83.12px;text-align:left;transform-origin:0 0;">4 Корпус №4</div>
<div class="d" style="left:407.70px;top:190.68px;width:50.86px;text-align:left;transform-origin:0 0;">231-1 Гло...</div>
<div class="d" style="left:459.70px;top:190.68px;width:72.37px;text-align:left;transform-origin:0 0;">Полинцева Віт...</div>
<div class="d" style="left:525.69px;top:190.68px;width:47.31px;text-align:right;transform-origin:100% 0;">40.20</div>
<div class="d" style="left:579.70px;top:190.68px;width:92.80px;text-align:left;transform-origin:0 0;">Репродуктор центр...</div>
<div class="d" style="left:670.70px;top:190.68px;width:128.28px;text-align:left;transform-origin:0 0;">4 Корпус №4 - Медикаме...</div>
<div class="d" style="left:11.00px;top:206.51px;width:43.01px;text-align:left;transform-origin:0 0;">01.01.2...</div>
<div class="d" style="left:50.59px;top:206.51px;width:34.41px;text-align:right;transform-origin:100% 0;">2-...</div>
<div class="d" style="left:91.70px;top:206.51px;width:8.92px;text-align:left;transform-origin:0 0;">Б.</div>
<div class="d" style="left:104.70px;top:206.51px;width:75.59px;text-align:left;transform-origin:0 0;">Міщенко Юрій ...</div>
<div class="d" style="left:239.70px;top:206.51px;width:87.42px;text-align:left;transform-origin:0 0;">Репродуктор цент...</div>
<div class="d" style="left:325.70px;top:206.51px;width:83.12px;text-align:left;transform-origin:0 0;">5 Корпус №5</div>
<div class="d" style="left:407.70px;top:206.51px;width:50.86px;text-align:left;transform-origin:0 0;">231-1 Гло...</div>
<div class="d" style="left:459.70px;top:206.51px;width:72.37px;text-align:left;transform-origin:0 0;">Полинцева Віт...</div>
<div class="d" style="left:525.69px;top:206.51px;width:47.31px;text-align:right;transform-origin:100% 0;">181.64</div>
<div class="d" style="left:579.70px;top:206.51px;width:92.80px;text-align:left;transform-origin:0 0;">Репродуктор центр...</div>
<div class="d" style="left:670.70px;top:206.51px;width:128.28px;text-align:left;transform-origin:0 0;">5 Корпус №5 - Медикаме...</div>
<div style="left:778px;top:57px;width:13px;height:167px;background:#f0f0f0;"></div>
<div style="left:778px;top:57px;width:1px;height:167px;background:#fafafa;"></div>
<div style="left:779px;top:72px;width:10px;height:13px;background:#cdcdcd;"></div>
<svg style="left:778px;top:57px" width="13" height="167"><path d="M4 9.5 L6.5 7 L9 9.5" fill="none" stroke="#606060" stroke-width="1.6"/><path d="M4 159 L6.5 161.5 L9 159" fill="none" stroke="#606060" stroke-width="1.6"/></svg>
<div style="left:9px;top:224px;width:769px;height:13px;background:#f0f0f0;"></div>
<div style="left:21px;top:224px;width:736px;height:13px;background:#cdcdcd;"></div>
<svg style="left:9px;top:224px" width="769" height="13"><path d="M6 4 L3.5 6.5 L6 9" fill="none" stroke="#505050" stroke-width="1.6"/><path d="M761 4 L763.5 6.5 L761 9" fill="none" stroke="#505050" stroke-width="1.6"/></svg>
<div style="left:778px;top:224px;width:13px;height:13px;background:#e2ecd8;"></div>
<div style="left:778px;top:224px;width:13px;height:1px;background:#a8a8a8;"></div>
<div style="left:778px;top:224px;width:1px;height:13px;background:#a8a8a8;"></div>
<div style="left:8px;top:224px;width:1px;height:13px;background:#e8ece8;"></div>
<div style="left:8px;top:237px;width:783px;height:1px;background:#666666;"></div>
<div style="left:8px;top:238px;width:783px;height:3px;background:#e0eed6;"></div>
<div style="left:8px;top:241px;width:783px;height:1px;background:#929292;"></div>
<div style="left:8px;top:242px;width:783px;height:31px;background:linear-gradient(to bottom,#eef6e6 0px,#fdfdfb 1px,#fbfbf8 5px,#f0f4ec 11px,#dce8d2 17px,#c4d8b6 23px,#acc69c 29px,#a8c498 32px);"></div>
<svg style="left:0;top:0" width="800" height="453" viewBox="0 0 800 453"><path d="M14.5 246.5 H24.5 L31.5 253.5 V269.5 H14.5 Z" fill="#f8fafd" stroke="#8ea2c6"/><path d="M24.5 246.5 V253.5 H31.5" fill="#e2e4e8" stroke="#b4b8c0"/><path d="M15.5 270.2 H32.2 V254" fill="none" stroke="#a0a4ac" stroke-width="1"/><circle cx="29" cy="265.1" r="6.7" fill="#78b828" stroke="#62a020"/><path d="M29 261.1 V269.1 M25 265.1 H33" stroke="#fff" stroke-width="2.5"/><path d="M44.5 246.5 H54.5 L61.5 253.5 V269.5 H44.5 Z" fill="#f8fafd" stroke="#8ea2c6"/><path d="M54.5 246.5 V253.5 H61.5" fill="#e2e4e8" stroke="#b4b8c0"/><path d="M45.5 270.2 H62.2 V254" fill="none" stroke="#a0a4ac" stroke-width="1"/><path d="M49.5 265.8 L63 252" stroke="#c44a40" stroke-width="5" stroke-linecap="round"/><path d="M49.5 265.8 L63 252" stroke="#e4605a" stroke-width="3.2" stroke-linecap="round"/><path d="M56.2 259 L57.8 257.3" stroke="#4a3434" stroke-width="4.4"/><path d="M60.4 254.7 L61.4 253.6" stroke="#6a4a4a" stroke-width="4"/><path d="M48 267.4 L49.6 265.6" stroke="#303030" stroke-width="1.8"/><path d="M75.5 246.5 H85.5 L92.5 253.5 V269.5 H75.5 Z" fill="#f8fafd" stroke="#8ea2c6"/><path d="M85.5 246.5 V253.5 H92.5" fill="#e2e4e8" stroke="#b4b8c0"/><path d="M76.5 270.2 H93.2 V254" fill="none" stroke="#a0a4ac" stroke-width="1"/><path d="M85 260.5 L93.5 268.5 M93.5 260.5 L85 268.5" stroke="#d85a58" stroke-width="4" stroke-linecap="round"/><path d="M85 260.5 L93.5 268.5 M93.5 260.5 L85 268.5" stroke="#ec8a86" stroke-width="1.4" stroke-linecap="round"/><path d="M123.1 258.7 A8 8 0 1 1 115 252.0" fill="none" stroke="#5ea224" stroke-width="6"/><path d="M123.1 258.7 A8 8 0 1 1 115 252.0" fill="none" stroke="#86c636" stroke-width="4"/><path d="M113.5 247.0 L123.5 251.5 L114.5 257.5 Z" fill="#7ec032" stroke="#5ea224" stroke-width="1"/></svg>
<div style="left:8px;top:273px;width:783px;height:1px;background:#cfd6c8;"></div>
<div style="left:8px;top:274px;width:783px;height:1px;background:#e8e8e8;"></div>
<div style="left:8px;top:275px;width:770px;height:1px;background:#a8a8a8;"></div>
<div style="left:8px;top:275px;width:1px;height:161px;background:#8c8c8c;"></div>
<div style="left:9px;top:276px;width:769px;height:17px;background:#c8e4b4;"></div>
<div style="left:9px;top:293px;width:769px;height:2px;background:#636363;"></div>
<div style="left:9px;top:295px;width:769px;height:141px;background:#ffffff;"></div>
<div style="left:9px;top:276px;width:769px;height:1px;background:#dfe6d8;"></div>
<div style="left:9px;top:276px;width:1px;height:17px;background:#f4f8f0;"></div>
<div style="left:119px;top:276px;width:1px;height:17px;background:#f4f8f0;"></div>
<div style="left:207px;top:276px;width:1px;height:17px;background:#f4f8f0;"></div>
<div style="left:237px;top:276px;width:1px;height:17px;background:#f4f8f0;"></div>
<div style="left:279px;top:276px;width:1px;height:17px;background:#f4f8f0;"></div>
<div style="left:320px;top:276px;width:1px;height:17px;background:#f4f8f0;"></div>
<div style="left:349px;top:276px;width:1px;height:17px;background:#f4f8f0;"></div>
<div style="left:409px;top:276px;width:1px;height:17px;background:#f4f8f0;"></div>
<div style="left:460px;top:276px;width:1px;height:17px;background:#f4f8f0;"></div>
<div style="left:494px;top:276px;width:1px;height:17px;background:#f4f8f0;"></div>
<div style="left:546px;top:276px;width:1px;height:17px;background:#f4f8f0;"></div>
<div style="left:609px;top:276px;width:1px;height:17px;background:#f4f8f0;"></div>
<div style="left:642px;top:276px;width:1px;height:17px;background:#f4f8f0;"></div>
<div style="left:690px;top:276px;width:1px;height:17px;background:#f4f8f0;"></div>
<div style="left:739px;top:276px;width:1px;height:17px;background:#f4f8f0;"></div>
<div style="left:117px;top:276px;width:2px;height:19px;background:#636363;"></div>
<div style="left:205px;top:276px;width:2px;height:19px;background:#636363;"></div>
<div style="left:235px;top:276px;width:2px;height:19px;background:#636363;"></div>
<div style="left:277px;top:276px;width:2px;height:19px;background:#636363;"></div>
<div style="left:318px;top:276px;width:2px;height:19px;background:#636363;"></div>
<div style="left:347px;top:276px;width:2px;height:19px;background:#636363;"></div>
<div style="left:407px;top:276px;width:2px;height:19px;background:#636363;"></div>
<div style="left:458px;top:276px;width:2px;height:19px;background:#636363;"></div>
<div style="left:492px;top:276px;width:2px;height:19px;background:#636363;"></div>
<div style="left:544px;top:276px;width:2px;height:19px;background:#636363;"></div>
<div style="left:607px;top:276px;width:2px;height:19px;background:#636363;"></div>
<div style="left:640px;top:276px;width:2px;height:19px;background:#636363;"></div>
<div style="left:688px;top:276px;width:2px;height:19px;background:#636363;"></div>
<div style="left:737px;top:276px;width:2px;height:19px;background:#636363;"></div>
<div class="h" style="left:4.30px;top:278.90px;width:117.39px;text-align:center;transform-origin:50% 0;">На поголовье</div>
<div class="h" style="left:115.26px;top:278.90px;width:93.48px;text-align:center;transform-origin:50% 0;">Материал</div>
<div class="h" style="left:205.78px;top:278.90px;width:30.43px;text-align:center;transform-origin:50% 0;">Счет</div>
<div class="h" style="left:235.26px;top:278.90px;width:43.48px;text-align:center;transform-origin:50% 0;">Счет ОУ</div>
<div class="h" style="left:277.30px;top:278.90px;width:42.39px;text-align:center;transform-origin:50% 0;">Ед.изм</div>
<div class="h" style="left:318.83px;top:278.90px;width:29.35px;text-align:center;transform-origin:50% 0;">Но...</div>
<div class="h" style="left:346.48px;top:278.90px;width:63.04px;text-align:center;transform-origin:50% 0;">Весовая г...</div>
<div class="h" style="left:406.87px;top:278.90px;width:53.26px;text-align:center;transform-origin:50% 0;">Диагноз</div>
<div class="h" style="left:458.61px;top:278.90px;width:34.78px;text-align:center;transform-origin:50% 0;">Кол...</div>
<div class="h" style="left:491.83px;top:278.90px;width:54.35px;text-align:center;transform-origin:50% 0;">Дозиро...</div>
<div class="h" style="left:543.35px;top:278.90px;width:66.30px;text-align:center;transform-origin:50% 0;">Количество</div>
<div class="h" style="left:607.65px;top:278.90px;width:33.70px;text-align:center;transform-origin:50% 0;">Бок...</div>
<div class="h" style="left:640.00px;top:278.90px;width:50.00px;text-align:center;transform-origin:50% 0;">Метод ...</div>
<div class="h" style="left:687.96px;top:278.90px;width:51.09px;text-align:center;transform-origin:50% 0;">Сумма</div>
<div class="h" style="left:737.13px;top:278.90px;width:46.74px;text-align:center;transform-origin:50% 0;">Цена</div>
<div style="left:409px;top:295px;width:49px;height:14px;background:#c8e4b4;"></div>
<div style="left:10px;top:309px;width:107px;height:1px;background:#fafafa;"></div>
<div style="left:10px;top:310px;width:107px;height:1px;background:#919191;"></div>
<div style="left:10px;top:311px;width:107px;height:1px;background:#e4e4e4;"></div>
<div style="left:120px;top:309px;width:85px;height:1px;background:#fafafa;"></div>
<div style="left:120px;top:310px;width:85px;height:1px;background:#919191;"></div>
<div style="left:120px;top:311px;width:85px;height:1px;background:#e4e4e4;"></div>
<div style="left:208px;top:309px;width:27px;height:1px;background:#fafafa;"></div>
<div style="left:208px;top:310px;width:27px;height:1px;background:#919191;"></div>
<div style="left:208px;top:311px;width:27px;height:1px;background:#e4e4e4;"></div>
<div style="left:238px;top:309px;width:39px;height:1px;background:#fafafa;"></div>
<div style="left:238px;top:310px;width:39px;height:1px;background:#919191;"></div>
<div style="left:238px;top:311px;width:39px;height:1px;background:#e4e4e4;"></div>
<div style="left:280px;top:309px;width:38px;height:1px;background:#fafafa;"></div>
<div style="left:280px;top:310px;width:38px;height:1px;background:#919191;"></div>
<div style="left:280px;top:311px;width:38px;height:1px;background:#e4e4e4;"></div>
<div style="left:321px;top:309px;width:26px;height:1px;background:#fafafa;"></div>
<div style="left:321px;top:310px;width:26px;height:1px;background:#919191;"></div>
<div style="left:321px;top:311px;width:26px;height:1px;background:#e4e4e4;"></div>
<div style="left:350px;top:309px;width:57px;height:1px;background:#fafafa;"></div>
<div style="left:350px;top:310px;width:57px;height:1px;background:#919191;"></div>
<div style="left:350px;top:311px;width:57px;height:1px;background:#e4e4e4;"></div>
<div style="left:410px;top:309px;width:48px;height:1px;background:#fafafa;"></div>
<div style="left:410px;top:310px;width:48px;height:1px;background:#919191;"></div>
<div style="left:410px;top:311px;width:48px;height:1px;background:#e4e4e4;"></div>
<div style="left:461px;top:309px;width:31px;height:1px;background:#fafafa;"></div>
<div style="left:461px;top:310px;width:31px;height:1px;background:#919191;"></div>
<div style="left:461px;top:311px;width:31px;height:1px;background:#e4e4e4;"></div>
<div style="left:495px;top:309px;width:49px;height:1px;background:#fafafa;"></div>
<div style="left:495px;top:310px;width:49px;height:1px;background:#919191;"></div>
<div style="left:495px;top:311px;width:49px;height:1px;background:#e4e4e4;"></div>
<div style="left:547px;top:309px;width:60px;height:1px;background:#fafafa;"></div>
<div style="left:547px;top:310px;width:60px;height:1px;background:#919191;"></div>
<div style="left:547px;top:311px;width:60px;height:1px;background:#e4e4e4;"></div>
<div style="left:610px;top:309px;width:30px;height:1px;background:#fafafa;"></div>
<div style="left:610px;top:310px;width:30px;height:1px;background:#919191;"></div>
<div style="left:610px;top:311px;width:30px;height:1px;background:#e4e4e4;"></div>
<div style="left:643px;top:309px;width:45px;height:1px;background:#fafafa;"></div>
<div style="left:643px;top:310px;width:45px;height:1px;background:#919191;"></div>
<div style="left:643px;top:311px;width:45px;height:1px;background:#e4e4e4;"></div>
<div style="left:691px;top:309px;width:46px;height:1px;background:#fafafa;"></div>
<div style="left:691px;top:310px;width:46px;height:1px;background:#919191;"></div>
<div style="left:691px;top:311px;width:46px;height:1px;background:#e4e4e4;"></div>
<div style="left:740px;top:309px;width:38px;height:1px;background:#fafafa;"></div>
<div style="left:740px;top:310px;width:38px;height:1px;background:#919191;"></div>
<div style="left:740px;top:311px;width:38px;height:1px;background:#e4e4e4;"></div>
<div style="left:10px;top:325px;width:107px;height:1px;background:#e2e2e2;"></div>
<div style="left:10px;top:326px;width:107px;height:1px;background:#919191;"></div>
<div style="left:10px;top:327px;width:107px;height:1px;background:#fbfbfb;"></div>
<div style="left:120px;top:325px;width:85px;height:1px;background:#e2e2e2;"></div>
<div style="left:120px;top:326px;width:85px;height:1px;background:#919191;"></div>
<div style="left:120px;top:327px;width:85px;height:1px;background:#fbfbfb;"></div>
<div style="left:208px;top:325px;width:27px;height:1px;background:#e2e2e2;"></div>
<div style="left:208px;top:326px;width:27px;height:1px;background:#919191;"></div>
<div style="left:208px;top:327px;width:27px;height:1px;background:#fbfbfb;"></div>
<div style="left:238px;top:325px;width:39px;height:1px;background:#e2e2e2;"></div>
<div style="left:238px;top:326px;width:39px;height:1px;background:#919191;"></div>
<div style="left:238px;top:327px;width:39px;height:1px;background:#fbfbfb;"></div>
<div style="left:280px;top:325px;width:38px;height:1px;background:#e2e2e2;"></div>
<div style="left:280px;top:326px;width:38px;height:1px;background:#919191;"></div>
<div style="left:280px;top:327px;width:38px;height:1px;background:#fbfbfb;"></div>
<div style="left:321px;top:325px;width:26px;height:1px;background:#e2e2e2;"></div>
<div style="left:321px;top:326px;width:26px;height:1px;background:#919191;"></div>
<div style="left:321px;top:327px;width:26px;height:1px;background:#fbfbfb;"></div>
<div style="left:350px;top:325px;width:57px;height:1px;background:#e2e2e2;"></div>
<div style="left:350px;top:326px;width:57px;height:1px;background:#919191;"></div>
<div style="left:350px;top:327px;width:57px;height:1px;background:#fbfbfb;"></div>
<div style="left:410px;top:325px;width:48px;height:1px;background:#e2e2e2;"></div>
<div style="left:410px;top:326px;width:48px;height:1px;background:#919191;"></div>
<div style="left:410px;top:327px;width:48px;height:1px;background:#fbfbfb;"></div>
<div style="left:461px;top:325px;width:31px;height:1px;background:#e2e2e2;"></div>
<div style="left:461px;top:326px;width:31px;height:1px;background:#919191;"></div>
<div style="left:461px;top:327px;width:31px;height:1px;background:#fbfbfb;"></div>
<div style="left:495px;top:325px;width:49px;height:1px;background:#e2e2e2;"></div>
<div style="left:495px;top:326px;width:49px;height:1px;background:#919191;"></div>
<div style="left:495px;top:327px;width:49px;height:1px;background:#fbfbfb;"></div>
<div style="left:547px;top:325px;width:60px;height:1px;background:#e2e2e2;"></div>
<div style="left:547px;top:326px;width:60px;height:1px;background:#919191;"></div>
<div style="left:547px;top:327px;width:60px;height:1px;background:#fbfbfb;"></div>
<div style="left:610px;top:325px;width:30px;height:1px;background:#e2e2e2;"></div>
<div style="left:610px;top:326px;width:30px;height:1px;background:#919191;"></div>
<div style="left:610px;top:327px;width:30px;height:1px;background:#fbfbfb;"></div>
<div style="left:643px;top:325px;width:45px;height:1px;background:#e2e2e2;"></div>
<div style="left:643px;top:326px;width:45px;height:1px;background:#919191;"></div>
<div style="left:643px;top:327px;width:45px;height:1px;background:#fbfbfb;"></div>
<div style="left:691px;top:325px;width:46px;height:1px;background:#e2e2e2;"></div>
<div style="left:691px;top:326px;width:46px;height:1px;background:#919191;"></div>
<div style="left:691px;top:327px;width:46px;height:1px;background:#fbfbfb;"></div>
<div style="left:740px;top:325px;width:38px;height:1px;background:#e2e2e2;"></div>
<div style="left:740px;top:326px;width:38px;height:1px;background:#919191;"></div>
<div style="left:740px;top:327px;width:38px;height:1px;background:#fbfbfb;"></div>
<div style="left:10px;top:341px;width:107px;height:1px;background:#cbcbcb;"></div>
<div style="left:10px;top:342px;width:107px;height:1px;background:#a4a4a4;"></div>
<div style="left:120px;top:341px;width:85px;height:1px;background:#cbcbcb;"></div>
<div style="left:120px;top:342px;width:85px;height:1px;background:#a4a4a4;"></div>
<div style="left:208px;top:341px;width:27px;height:1px;background:#cbcbcb;"></div>
<div style="left:208px;top:342px;width:27px;height:1px;background:#a4a4a4;"></div>
<div style="left:238px;top:341px;width:39px;height:1px;background:#cbcbcb;"></div>
<div style="left:238px;top:342px;width:39px;height:1px;background:#a4a4a4;"></div>
<div style="left:280px;top:341px;width:38px;height:1px;background:#cbcbcb;"></div>
<div style="left:280px;top:342px;width:38px;height:1px;background:#a4a4a4;"></div>
<div style="left:321px;top:341px;width:26px;height:1px;background:#cbcbcb;"></div>
<div style="left:321px;top:342px;width:26px;height:1px;background:#a4a4a4;"></div>
<div style="left:350px;top:341px;width:57px;height:1px;background:#cbcbcb;"></div>
<div style="left:350px;top:342px;width:57px;height:1px;background:#a4a4a4;"></div>
<div style="left:410px;top:341px;width:48px;height:1px;background:#cbcbcb;"></div>
<div style="left:410px;top:342px;width:48px;height:1px;background:#a4a4a4;"></div>
<div style="left:461px;top:341px;width:31px;height:1px;background:#cbcbcb;"></div>
<div style="left:461px;top:342px;width:31px;height:1px;background:#a4a4a4;"></div>
<div style="left:495px;top:341px;width:49px;height:1px;background:#cbcbcb;"></div>
<div style="left:495px;top:342px;width:49px;height:1px;background:#a4a4a4;"></div>
<div style="left:547px;top:341px;width:60px;height:1px;background:#cbcbcb;"></div>
<div style="left:547px;top:342px;width:60px;height:1px;background:#a4a4a4;"></div>
<div style="left:610px;top:341px;width:30px;height:1px;background:#cbcbcb;"></div>
<div style="left:610px;top:342px;width:30px;height:1px;background:#a4a4a4;"></div>
<div style="left:643px;top:341px;width:45px;height:1px;background:#cbcbcb;"></div>
<div style="left:643px;top:342px;width:45px;height:1px;background:#a4a4a4;"></div>
<div style="left:691px;top:341px;width:46px;height:1px;background:#cbcbcb;"></div>
<div style="left:691px;top:342px;width:46px;height:1px;background:#a4a4a4;"></div>
<div style="left:740px;top:341px;width:38px;height:1px;background:#cbcbcb;"></div>
<div style="left:740px;top:342px;width:38px;height:1px;background:#a4a4a4;"></div>
<div style="left:10px;top:357px;width:107px;height:1px;background:#b4b4b4;"></div>
<div style="left:10px;top:358px;width:107px;height:1px;background:#bbbbbb;"></div>
<div style="left:120px;top:357px;width:85px;height:1px;background:#b4b4b4;"></div>
<div style="left:120px;top:358px;width:85px;height:1px;background:#bbbbbb;"></div>
<div style="left:208px;top:357px;width:27px;height:1px;background:#b4b4b4;"></div>
<div style="left:208px;top:358px;width:27px;height:1px;background:#bbbbbb;"></div>
<div style="left:238px;top:357px;width:39px;height:1px;background:#b4b4b4;"></div>
<div style="left:238px;top:358px;width:39px;height:1px;background:#bbbbbb;"></div>
<div style="left:280px;top:357px;width:38px;height:1px;background:#b4b4b4;"></div>
<div style="left:280px;top:358px;width:38px;height:1px;background:#bbbbbb;"></div>
<div style="left:321px;top:357px;width:26px;height:1px;background:#b4b4b4;"></div>
<div style="left:321px;top:358px;width:26px;height:1px;background:#bbbbbb;"></div>
<div style="left:350px;top:357px;width:57px;height:1px;background:#b4b4b4;"></div>
<div style="left:350px;top:358px;width:57px;height:1px;background:#bbbbbb;"></div>
<div style="left:410px;top:357px;width:48px;height:1px;background:#b4b4b4;"></div>
<div style="left:410px;top:358px;width:48px;height:1px;background:#bbbbbb;"></div>
<div style="left:461px;top:357px;width:31px;height:1px;background:#b4b4b4;"></div>
<div style="left:461px;top:358px;width:31px;height:1px;background:#bbbbbb;"></div>
<div style="left:495px;top:357px;width:49px;height:1px;background:#b4b4b4;"></div>
<div style="left:495px;top:358px;width:49px;height:1px;background:#bbbbbb;"></div>
<div style="left:547px;top:357px;width:60px;height:1px;background:#b4b4b4;"></div>
<div style="left:547px;top:358px;width:60px;height:1px;background:#bbbbbb;"></div>
<div style="left:610px;top:357px;width:30px;height:1px;background:#b4b4b4;"></div>
<div style="left:610px;top:358px;width:30px;height:1px;background:#bbbbbb;"></div>
<div style="left:643px;top:357px;width:45px;height:1px;background:#b4b4b4;"></div>
<div style="left:643px;top:358px;width:45px;height:1px;background:#bbbbbb;"></div>
<div style="left:691px;top:357px;width:46px;height:1px;background:#b4b4b4;"></div>
<div style="left:691px;top:358px;width:46px;height:1px;background:#bbbbbb;"></div>
<div style="left:740px;top:357px;width:38px;height:1px;background:#b4b4b4;"></div>
<div style="left:740px;top:358px;width:38px;height:1px;background:#bbbbbb;"></div>
<div style="left:10px;top:373px;width:107px;height:1px;background:#9d9d9d;"></div>
<div style="left:10px;top:374px;width:107px;height:1px;background:#d2d2d2;"></div>
<div style="left:120px;top:373px;width:85px;height:1px;background:#9d9d9d;"></div>
<div style="left:120px;top:374px;width:85px;height:1px;background:#d2d2d2;"></div>
<div style="left:208px;top:373px;width:27px;height:1px;background:#9d9d9d;"></div>
<div style="left:208px;top:374px;width:27px;height:1px;background:#d2d2d2;"></div>
<div style="left:238px;top:373px;width:39px;height:1px;background:#9d9d9d;"></div>
<div style="left:238px;top:374px;width:39px;height:1px;background:#d2d2d2;"></div>
<div style="left:280px;top:373px;width:38px;height:1px;background:#9d9d9d;"></div>
<div style="left:280px;top:374px;width:38px;height:1px;background:#d2d2d2;"></div>
<div style="left:321px;top:373px;width:26px;height:1px;background:#9d9d9d;"></div>
<div style="left:321px;top:374px;width:26px;height:1px;background:#d2d2d2;"></div>
<div style="left:350px;top:373px;width:57px;height:1px;background:#9d9d9d;"></div>
<div style="left:350px;top:374px;width:57px;height:1px;background:#d2d2d2;"></div>
<div style="left:410px;top:373px;width:48px;height:1px;background:#9d9d9d;"></div>
<div style="left:410px;top:374px;width:48px;height:1px;background:#d2d2d2;"></div>
<div style="left:461px;top:373px;width:31px;height:1px;background:#9d9d9d;"></div>
<div style="left:461px;top:374px;width:31px;height:1px;background:#d2d2d2;"></div>
<div style="left:495px;top:373px;width:49px;height:1px;background:#9d9d9d;"></div>
<div style="left:495px;top:374px;width:49px;height:1px;background:#d2d2d2;"></div>
<div style="left:547px;top:373px;width:60px;height:1px;background:#9d9d9d;"></div>
<div style="left:547px;top:374px;width:60px;height:1px;background:#d2d2d2;"></div>
<div style="left:610px;top:373px;width:30px;height:1px;background:#9d9d9d;"></div>
<div style="left:610px;top:374px;width:30px;height:1px;background:#d2d2d2;"></div>
<div style="left:643px;top:373px;width:45px;height:1px;background:#9d9d9d;"></div>
<div style="left:643px;top:374px;width:45px;height:1px;background:#d2d2d2;"></div>
<div style="left:691px;top:373px;width:46px;height:1px;background:#9d9d9d;"></div>
<div style="left:691px;top:374px;width:46px;height:1px;background:#d2d2d2;"></div>
<div style="left:740px;top:373px;width:38px;height:1px;background:#9d9d9d;"></div>
<div style="left:740px;top:374px;width:38px;height:1px;background:#d2d2d2;"></div>
<div style="left:10px;top:388px;width:107px;height:1px;background:#f4f4f4;"></div>
<div style="left:10px;top:389px;width:107px;height:1px;background:#919191;"></div>
<div style="left:10px;top:390px;width:107px;height:1px;background:#e9e9e9;"></div>
<div style="left:120px;top:388px;width:85px;height:1px;background:#f4f4f4;"></div>
<div style="left:120px;top:389px;width:85px;height:1px;background:#919191;"></div>
<div style="left:120px;top:390px;width:85px;height:1px;background:#e9e9e9;"></div>
<div style="left:208px;top:388px;width:27px;height:1px;background:#f4f4f4;"></div>
<div style="left:208px;top:389px;width:27px;height:1px;background:#919191;"></div>
<div style="left:208px;top:390px;width:27px;height:1px;background:#e9e9e9;"></div>
<div style="left:238px;top:388px;width:39px;height:1px;background:#f4f4f4;"></div>
<div style="left:238px;top:389px;width:39px;height:1px;background:#919191;"></div>
<div style="left:238px;top:390px;width:39px;height:1px;background:#e9e9e9;"></div>
<div style="left:280px;top:388px;width:38px;height:1px;background:#f4f4f4;"></div>
<div style="left:280px;top:389px;width:38px;height:1px;background:#919191;"></div>
<div style="left:280px;top:390px;width:38px;height:1px;background:#e9e9e9;"></div>
<div style="left:321px;top:388px;width:26px;height:1px;background:#f4f4f4;"></div>
<div style="left:321px;top:389px;width:26px;height:1px;background:#919191;"></div>
<div style="left:321px;top:390px;width:26px;height:1px;background:#e9e9e9;"></div>
<div style="left:350px;top:388px;width:57px;height:1px;background:#f4f4f4;"></div>
<div style="left:350px;top:389px;width:57px;height:1px;background:#919191;"></div>
<div style="left:350px;top:390px;width:57px;height:1px;background:#e9e9e9;"></div>
<div style="left:410px;top:388px;width:48px;height:1px;background:#f4f4f4;"></div>
<div style="left:410px;top:389px;width:48px;height:1px;background:#919191;"></div>
<div style="left:410px;top:390px;width:48px;height:1px;background:#e9e9e9;"></div>
<div style="left:461px;top:388px;width:31px;height:1px;background:#f4f4f4;"></div>
<div style="left:461px;top:389px;width:31px;height:1px;background:#919191;"></div>
<div style="left:461px;top:390px;width:31px;height:1px;background:#e9e9e9;"></div>
<div style="left:495px;top:388px;width:49px;height:1px;background:#f4f4f4;"></div>
<div style="left:495px;top:389px;width:49px;height:1px;background:#919191;"></div>
<div style="left:495px;top:390px;width:49px;height:1px;background:#e9e9e9;"></div>
<div style="left:547px;top:388px;width:60px;height:1px;background:#f4f4f4;"></div>
<div style="left:547px;top:389px;width:60px;height:1px;background:#919191;"></div>
<div style="left:547px;top:390px;width:60px;height:1px;background:#e9e9e9;"></div>
<div style="left:610px;top:388px;width:30px;height:1px;background:#f4f4f4;"></div>
<div style="left:610px;top:389px;width:30px;height:1px;background:#919191;"></div>
<div style="left:610px;top:390px;width:30px;height:1px;background:#e9e9e9;"></div>
<div style="left:643px;top:388px;width:45px;height:1px;background:#f4f4f4;"></div>
<div style="left:643px;top:389px;width:45px;height:1px;background:#919191;"></div>
<div style="left:643px;top:390px;width:45px;height:1px;background:#e9e9e9;"></div>
<div style="left:691px;top:388px;width:46px;height:1px;background:#f4f4f4;"></div>
<div style="left:691px;top:389px;width:46px;height:1px;background:#919191;"></div>
<div style="left:691px;top:390px;width:46px;height:1px;background:#e9e9e9;"></div>
<div style="left:740px;top:388px;width:38px;height:1px;background:#f4f4f4;"></div>
<div style="left:740px;top:389px;width:38px;height:1px;background:#919191;"></div>
<div style="left:740px;top:390px;width:38px;height:1px;background:#e9e9e9;"></div>
<div style="left:10px;top:404px;width:107px;height:1px;background:#dddddd;"></div>
<div style="left:10px;top:405px;width:107px;height:1px;background:#929292;"></div>
<div style="left:120px;top:404px;width:85px;height:1px;background:#dddddd;"></div>
<div style="left:120px;top:405px;width:85px;height:1px;background:#929292;"></div>
<div style="left:208px;top:404px;width:27px;height:1px;background:#dddddd;"></div>
<div style="left:208px;top:405px;width:27px;height:1px;background:#929292;"></div>
<div style="left:238px;top:404px;width:39px;height:1px;background:#dddddd;"></div>
<div style="left:238px;top:405px;width:39px;height:1px;background:#929292;"></div>
<div style="left:280px;top:404px;width:38px;height:1px;background:#dddddd;"></div>
<div style="left:280px;top:405px;width:38px;height:1px;background:#929292;"></div>
<div style="left:321px;top:404px;width:26px;height:1px;background:#dddddd;"></div>
<div style="left:321px;top:405px;width:26px;height:1px;background:#929292;"></div>
<div style="left:350px;top:404px;width:57px;height:1px;background:#dddddd;"></div>
<div style="left:350px;top:405px;width:57px;height:1px;background:#929292;"></div>
<div style="left:410px;top:404px;width:48px;height:1px;background:#dddddd;"></div>
<div style="left:410px;top:405px;width:48px;height:1px;background:#929292;"></div>
<div style="left:461px;top:404px;width:31px;height:1px;background:#dddddd;"></div>
<div style="left:461px;top:405px;width:31px;height:1px;background:#929292;"></div>
<div style="left:495px;top:404px;width:49px;height:1px;background:#dddddd;"></div>
<div style="left:495px;top:405px;width:49px;height:1px;background:#929292;"></div>
<div style="left:547px;top:404px;width:60px;height:1px;background:#dddddd;"></div>
<div style="left:547px;top:405px;width:60px;height:1px;background:#929292;"></div>
<div style="left:610px;top:404px;width:30px;height:1px;background:#dddddd;"></div>
<div style="left:610px;top:405px;width:30px;height:1px;background:#929292;"></div>
<div style="left:643px;top:404px;width:45px;height:1px;background:#dddddd;"></div>
<div style="left:643px;top:405px;width:45px;height:1px;background:#929292;"></div>
<div style="left:691px;top:404px;width:46px;height:1px;background:#dddddd;"></div>
<div style="left:691px;top:405px;width:46px;height:1px;background:#929292;"></div>
<div style="left:740px;top:404px;width:38px;height:1px;background:#dddddd;"></div>
<div style="left:740px;top:405px;width:38px;height:1px;background:#929292;"></div>
<div style="left:10px;top:420px;width:107px;height:1px;background:#c6c6c6;"></div>
<div style="left:10px;top:421px;width:107px;height:1px;background:#a9a9a9;"></div>
<div style="left:120px;top:420px;width:85px;height:1px;background:#c6c6c6;"></div>
<div style="left:120px;top:421px;width:85px;height:1px;background:#a9a9a9;"></div>
<div style="left:208px;top:420px;width:27px;height:1px;background:#c6c6c6;"></div>
<div style="left:208px;top:421px;width:27px;height:1px;background:#a9a9a9;"></div>
<div style="left:238px;top:420px;width:39px;height:1px;background:#c6c6c6;"></div>
<div style="left:238px;top:421px;width:39px;height:1px;background:#a9a9a9;"></div>
<div style="left:280px;top:420px;width:38px;height:1px;background:#c6c6c6;"></div>
<div style="left:280px;top:421px;width:38px;height:1px;background:#a9a9a9;"></div>
<div style="left:321px;top:420px;width:26px;height:1px;background:#c6c6c6;"></div>
<div style="left:321px;top:421px;width:26px;height:1px;background:#a9a9a9;"></div>
<div style="left:350px;top:420px;width:57px;height:1px;background:#c6c6c6;"></div>
<div style="left:350px;top:421px;width:57px;height:1px;background:#a9a9a9;"></div>
<div style="left:410px;top:420px;width:48px;height:1px;background:#c6c6c6;"></div>
<div style="left:410px;top:421px;width:48px;height:1px;background:#a9a9a9;"></div>
<div style="left:461px;top:420px;width:31px;height:1px;background:#c6c6c6;"></div>
<div style="left:461px;top:421px;width:31px;height:1px;background:#a9a9a9;"></div>
<div style="left:495px;top:420px;width:49px;height:1px;background:#c6c6c6;"></div>
<div style="left:495px;top:421px;width:49px;height:1px;background:#a9a9a9;"></div>
<div style="left:547px;top:420px;width:60px;height:1px;background:#c6c6c6;"></div>
<div style="left:547px;top:421px;width:60px;height:1px;background:#a9a9a9;"></div>
<div style="left:610px;top:420px;width:30px;height:1px;background:#c6c6c6;"></div>
<div style="left:610px;top:421px;width:30px;height:1px;background:#a9a9a9;"></div>
<div style="left:643px;top:420px;width:45px;height:1px;background:#c6c6c6;"></div>
<div style="left:643px;top:421px;width:45px;height:1px;background:#a9a9a9;"></div>
<div style="left:691px;top:420px;width:46px;height:1px;background:#c6c6c6;"></div>
<div style="left:691px;top:421px;width:46px;height:1px;background:#a9a9a9;"></div>
<div style="left:740px;top:420px;width:38px;height:1px;background:#c6c6c6;"></div>
<div style="left:740px;top:421px;width:38px;height:1px;background:#a9a9a9;"></div>
<div style="left:117px;top:295px;width:2px;height:141px;background:#a2a2a2;"></div>
<div style="left:205px;top:295px;width:2px;height:141px;background:#a2a2a2;"></div>
<div style="left:235px;top:295px;width:2px;height:141px;background:#a2a2a2;"></div>
<div style="left:277px;top:295px;width:2px;height:141px;background:#a2a2a2;"></div>
<div style="left:318px;top:295px;width:2px;height:141px;background:#a2a2a2;"></div>
<div style="left:347px;top:295px;width:2px;height:141px;background:#a2a2a2;"></div>
<div style="left:407px;top:295px;width:2px;height:141px;background:#a2a2a2;"></div>
<div style="left:458px;top:295px;width:2px;height:141px;background:#a2a2a2;"></div>
<div style="left:492px;top:295px;width:2px;height:141px;background:#a2a2a2;"></div>
<div style="left:544px;top:295px;width:2px;height:141px;background:#a2a2a2;"></div>
<div style="left:607px;top:295px;width:2px;height:141px;background:#a2a2a2;"></div>
<div style="left:640px;top:295px;width:2px;height:141px;background:#a2a2a2;"></div>
<div style="left:688px;top:295px;width:2px;height:141px;background:#a2a2a2;"></div>
<div style="left:737px;top:295px;width:2px;height:141px;background:#a2a2a2;"></div>
<div style="left:0;top:0;width:778px;height:453px;overflow:hidden">
<div class="d" style="left:11.00px;top:297.30px;width:113.98px;text-align:left;transform-origin:0 0;">Свиноматки основні</div>
<div class="d" style="left:121.70px;top:297.30px;width:89.57px;text-align:left;transform-origin:0 0;">Амоксан р.ін.</div>
<div class="d" style="left:209.70px;top:297.30px;width:27.20px;text-align:left;transform-origin:0 0;">209</div>
<div class="d" style="left:239.70px;top:297.30px;width:40.11px;text-align:left;transform-origin:0 0;">О-209</div>
<div class="d" style="left:281.70px;top:297.30px;width:39.03px;text-align:left;transform-origin:0 0;">мл.</div>
<div class="d" style="left:351.70px;top:297.30px;width:59.46px;text-align:left;transform-origin:0 0;">150-200</div>
<div class="d" style="left:411.70px;top:297.30px;width:49.78px;text-align:left;transform-origin:0 0;">Холостая</div>
<div class="d" style="left:457.74px;top:297.30px;width:32.26px;text-align:right;transform-origin:100% 0;">3.00</div>
<div class="d" style="left:496.70px;top:297.30px;width:50.86px;text-align:left;transform-origin:0 0;">1мл/10кг</div>
<div class="d" style="left:541.56px;top:297.30px;width:63.44px;text-align:right;transform-origin:100% 0;">49.000</div>
<div class="d" style="left:686.61px;top:297.30px;width:48.39px;text-align:right;transform-origin:100% 0;">16.36</div>
<div class="d" style="left:735.91px;top:297.30px;width:44.09px;text-align:right;transform-origin:100% 0;">0.33</div>
<div class="d" style="left:11.00px;top:313.09px;width:113.98px;text-align:left;transform-origin:0 0;">Свиноматки основні</div>
<div class="d" style="left:121.70px;top:313.09px;width:89.57px;text-align:left;transform-origin:0 0;">Аініп (мл)</div>
<div class="d" style="left:209.70px;top:313.09px;width:27.20px;text-align:left;transform-origin:0 0;">209</div>
<div class="d" style="left:239.70px;top:313.09px;width:40.11px;text-align:left;transform-origin:0 0;">О-209</div>
<div class="d" style="left:281.70px;top:313.09px;width:39.03px;text-align:left;transform-origin:0 0;">мл.</div>
<div class="d" style="left:351.70px;top:313.09px;width:59.46px;text-align:left;transform-origin:0 0;">150-200</div>
<div class="d" style="left:411.70px;top:313.09px;width:49.78px;text-align:left;transform-origin:0 0;">Холостая</div>
<div class="d" style="left:457.74px;top:313.09px;width:32.26px;text-align:right;transform-origin:100% 0;">5.00</div>
<div class="d" style="left:496.70px;top:313.09px;width:50.86px;text-align:left;transform-origin:0 0;">3мл/100кг</div>
<div class="d" style="left:541.56px;top:313.09px;width:63.44px;text-align:right;transform-origin:100% 0;">26.000</div>
<div class="d" style="left:686.61px;top:313.09px;width:48.39px;text-align:right;transform-origin:100% 0;">23.65</div>
<div class="d" style="left:735.91px;top:313.09px;width:44.09px;text-align:right;transform-origin:100% 0;">0.91</div>
<div class="d" style="left:11.00px;top:328.88px;width:113.98px;text-align:left;transform-origin:0 0;">Свиноматки основні</div>
<div class="d" style="left:121.70px;top:328.88px;width:89.57px;text-align:left;transform-origin:0 0;">Окситоцин мл.</div>
<div class="d" style="left:209.70px;top:328.88px;width:27.20px;text-align:left;transform-origin:0 0;">209</div>
<div class="d" style="left:239.70px;top:328.88px;width:40.11px;text-align:left;transform-origin:0 0;">О-209</div>
<div class="d" style="left:281.70px;top:328.88px;width:39.03px;text-align:left;transform-origin:0 0;">мл.</div>
<div class="d" style="left:351.70px;top:328.88px;width:59.46px;text-align:left;transform-origin:0 0;">150-200</div>
<div class="d" style="left:411.70px;top:328.88px;width:49.78px;text-align:left;transform-origin:0 0;">Холостая</div>
<div class="d" style="left:457.74px;top:328.88px;width:32.26px;text-align:right;transform-origin:100% 0;">5.00</div>
<div class="d" style="left:496.70px;top:328.88px;width:50.86px;text-align:left;transform-origin:0 0;">2мл</div>
<div class="d" style="left:541.56px;top:328.88px;width:63.44px;text-align:right;transform-origin:100% 0;">10.000</div>
<div class="d" style="left:686.61px;top:328.88px;width:48.39px;text-align:right;transform-origin:100% 0;">1.52</div>
<div class="d" style="left:735.91px;top:328.88px;width:44.09px;text-align:right;transform-origin:100% 0;">0.15</div>
<div class="d" style="left:11.00px;top:344.67px;width:113.98px;text-align:left;transform-origin:0 0;">Свиноматки основні</div>
<div class="d" style="left:121.70px;top:344.67px;width:89.57px;text-align:left;transform-origin:0 0;">Ікглюковіт 200 мл</div>
<div class="d" style="left:209.70px;top:344.67px;width:27.20px;text-align:left;transform-origin:0 0;">209</div>
<div class="d" style="left:239.70px;top:344.67px;width:40.11px;text-align:left;transform-origin:0 0;">О-209</div>
<div class="d" style="left:281.70px;top:344.67px;width:39.03px;text-align:left;transform-origin:0 0;">мл.</div>
<div class="d" style="left:351.70px;top:344.67px;width:59.46px;text-align:left;transform-origin:0 0;">150-200</div>
<div class="d" style="left:411.70px;top:344.67px;width:49.78px;text-align:left;transform-origin:0 0;">Холостая</div>
<div class="d" style="left:457.74px;top:344.67px;width:32.26px;text-align:right;transform-origin:100% 0;">5.00</div>
<div class="d" style="left:496.70px;top:344.67px;width:50.86px;text-align:left;transform-origin:0 0;">1мл/10кг</div>
<div class="d" style="left:541.56px;top:344.67px;width:63.44px;text-align:right;transform-origin:100% 0;">49.000</div>
<div class="d" style="left:686.61px;top:344.67px;width:48.39px;text-align:right;transform-origin:100% 0;">3.04</div>
<div class="d" style="left:735.91px;top:344.67px;width:44.09px;text-align:right;transform-origin:100% 0;">0.06</div>
</div>
<div style="left:778px;top:275px;width:13px;height:161px;background:#f0f0f0;"></div>
<div style="left:778px;top:275px;width:1px;height:161px;background:#fafafa;"></div>
<div style="left:779px;top:304px;width:10px;height:13px;background:#cdcdcd;"></div>
<svg style="left:778px;top:275px" width="13" height="161"><path d="M4 9.5 L6.5 7 L9 9.5" fill="none" stroke="#606060" stroke-width="1.6"/><path d="M4 152 L6.5 154.5 L9 152" fill="none" stroke="#606060" stroke-width="1.6"/></svg>
<div style="left:9px;top:436px;width:769px;height:13px;background:#f0f0f0;"></div>
<div style="left:21px;top:436px;width:594px;height:13px;background:#cdcdcd;"></div>
<svg style="left:9px;top:436px" width="769" height="13"><path d="M6 4 L3.5 6.5 L6 9" fill="none" stroke="#505050" stroke-width="1.6"/><path d="M761 4 L763.5 6.5 L761 9" fill="none" stroke="#505050" stroke-width="1.6"/></svg>
<div style="left:778px;top:436px;width:13px;height:13px;background:#e2ecd8;"></div>
<div style="left:778px;top:436px;width:13px;height:1px;background:#a8a8a8;"></div>
<div style="left:778px;top:436px;width:1px;height:13px;background:#a8a8a8;"></div>
<div style="left:8px;top:436px;width:1px;height:13px;background:#e8ece8;"></div>
</div>
</body></html>
